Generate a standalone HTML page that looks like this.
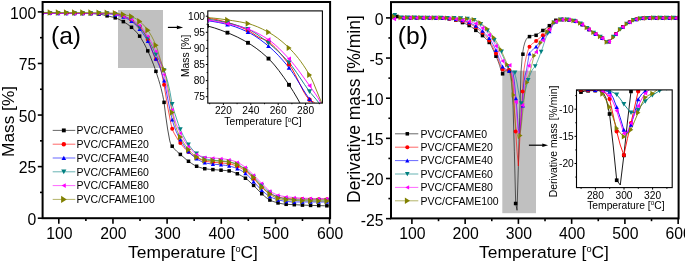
<!DOCTYPE html><html><head><meta charset="utf-8"><style>html,body{margin:0;padding:0;background:#fff;width:685px;height:262px;overflow:hidden}svg{display:block;will-change:transform}</style></head><body>
<svg width="685" height="262" viewBox="0 0 685 262" font-family='"Liberation Sans", sans-serif'>
<defs>
<clipPath id="cl"><rect x="42.6" y="2.0" width="287.5" height="216.2"/></clipPath>
<clipPath id="cli"><rect x="207.8" y="10.9" width="114.59999999999997" height="92.19999999999999"/></clipPath>
<clipPath id="cr"><rect x="391.0" y="2.1" width="287.6" height="216.3"/></clipPath>
<clipPath id="cri"><rect x="576.5" y="89.9" width="95.70000000000005" height="97.69999999999999"/></clipPath>
</defs>
<rect x="118" y="10" width="45" height="58" fill="#c0c0c0"/>
<g clip-path="url(#cl)" fill="none" stroke-width="0.7">
<path d="M42.6 13.2L85.6 13.34L94.6 13.75L99.1 14.11L101.1 14.4L113.6 17.35L116.6 18.31L119.1 19.39L124.1 22.06L127.6 24.29L129.6 25.76L131.6 27.39L134.6 30.19L136.6 32.35L138.1 34.15L139.6 36.1L141.1 38.3L144.1 43.51L147.6 50.48L150.1 56.03L153.6 64.79L155.6 70.38L158.6 79.62L160.1 84.64L161.1 88.36L162.6 94.78L163.6 99.77L164.1 102.62L165.6 115.07L167.6 128.98L169.6 140.03L170.1 142.09L170.6 143.48L171.6 145.33L173.1 147.41L174.6 149.16L176.6 151.18L186.1 159.43L188.1 160.98L191.6 163.45L194.1 165.01L196.1 166.03L199.6 167.37L203.1 168.39L205.6 168.84L209.6 169.31L226.1 170.57L229.6 170.98L231.1 171.33L233.1 171.99L238.6 174.32L241.6 175.86L244.1 177.35L246.1 178.69L248.1 180.28L254.1 185.88L260.6 192.67L264.6 196.27L267.1 198.31L269.1 199.63L270.6 200.38L273.1 201.44L275.6 202.29L278.1 202.95L282.1 203.78L284.6 204.15L287.1 204.37L308.6 205.34L324.6 205.78L329.6 205.8" stroke="#000000"/>
<path d="M42.6 13.2L75.1 13.38L99.1 13.4L107.6 13.32L115.6 13.63L117.1 13.83L119.1 14.34L124.1 16.2L127.1 17.63L130.1 19.42L132.1 20.8L135.6 24.1L136.6 24.77L138.1 25.47L139.1 26.22L140.6 27.75L142.6 30.44L145.1 34.53L148.6 41L150.1 44.73L153.1 53.36L154.6 57.02L155.6 58.79L156.1 59.41L157.6 60.59L158.1 61.28L158.6 62.29L159.6 65.09L160.6 68.76L162.1 75.36L164.1 85L166.6 100.62L168.1 109.16L171.1 124.44L172.1 128.5L173.1 131.12L174.1 133.19L176.6 137.53L178.6 140.68L180.6 143.42L183.1 146.53L185.6 149.34L187.6 151.3L191.1 154.12L194.6 156.44L200.1 159.32L202.1 160.18L203.6 160.7L207.1 161.5L211.1 162.11L224.1 163.18L229.6 163.89L231.6 164.33L234.1 165.07L237.1 166.16L239.1 167.05L241.1 168.14L243.6 169.74L246.1 171.53L247.6 172.79L254.1 179.2L260.6 186.06L264.1 189.24L266.6 191.33L268.6 192.78L270.6 193.93L273.6 195.39L276.1 196.36L279.1 197.2L283.1 198.01L286.1 198.4L291.1 198.76L301.6 199.09L329.6 199.2" stroke="#ff0000"/>
<path d="M42.6 13.3L86.1 13.49L103.1 13.64L108.6 13.81L111.6 14.21L116.6 15.14L119.6 15.85L122.1 16.59L124.6 17.5L126.6 18.41L128.6 19.48L131.1 21.03L132.6 22.1L134.6 23.8L138.1 27.39L140.1 29.7L141.6 31.61L144.6 35.97L146.6 39.23L148.6 42.79L150.1 45.94L154.6 56.2L155.6 58.24L157.1 60.9L158.1 63.04L159.6 66.7L161.1 70.89L162.6 75.64L164.1 80.96L165.1 85.4L169.6 108.09L171.6 117.42L173.1 122.89L174.6 127.39L176.1 131.24L178.1 135.61L180.1 139.33L182.6 143.52L185.1 147.33L187.1 149.99L189.1 152.25L191.6 154.69L194.6 157.17L198.6 159.86L201.6 161.6L204.1 162.63L206.6 163.22L210.1 163.78L213.6 164.18L222.1 164.92L225.6 165.39L229.1 166L231.6 166.61L234.6 167.59L237.6 168.77L240.1 169.96L242.1 171.09L244.1 172.38L245.6 173.45L247.1 174.73L249.1 176.76L259.6 188.17L261.6 190.1L265.6 193.59L267.6 195.12L269.6 196.39L272.6 197.88L275.6 199.09L279.1 200.11L283.1 200.97L286.1 201.4L292.1 201.94L329.6 202" stroke="#0000ff"/>
<path d="M42.6 13.2L75.6 13.39L99.1 13.4L107.1 13.32L109.6 13.42L116.1 14.21L118.1 14.61L120.6 15.26L124.6 16.54L127.1 17.48L129.6 18.63L132.1 20.05L133.6 21.19L135.1 22.55L137.1 24.62L140.1 27.97L143.6 32.27L146.6 36.53L149.1 40.66L150.6 43.6L155.1 53L156.6 55.78L159.1 59.97L162.1 65.84L163.6 69.26L164.6 71.83L166.1 76.23L167.1 79.57L168.1 83.32L169.6 90.04L170.1 92.51L171.6 101.32L172.6 105.79L174.6 112.69L178.1 123.44L179.6 127.6L181.1 131.11L183.1 135.32L185.1 139.1L186.6 141.64L188.6 144.64L191.1 147.93L193.1 150.27L195.1 152.29L198.1 154.76L200.6 156.57L203.1 157.98L205.1 158.72L208.1 159.46L211.6 160.06L214.1 160.32L223.1 161L226.6 161.41L229.6 161.89L232.1 162.5L234.6 163.3L237.6 164.47L239.6 165.46L241.6 166.66L244.1 168.36L246.1 169.83L248.1 171.54L254.1 177.39L261.1 184.71L265.6 189.1L268.1 191.32L270.1 192.8L273.1 194.71L275.6 196.06L277.6 196.9L281.1 197.98L284.6 198.77L288.6 199.28L293.1 199.64L302.1 200L329.6 200.1" stroke="#008080"/>
<path d="M42.6 13.4L68.6 13.57L99.1 13.6L107.1 13.52L109.1 13.61L111.6 13.89L116.1 14.63L118.1 15.07L120.6 15.77L126.1 17.48L129.1 18.55L131.6 19.65L134.1 21.09L135.6 22.13L137.6 23.72L140.6 26.5L143.1 29.48L145.6 32.98L148.6 37.57L151.1 41.92L153.6 46.71L159.1 57.73L160.6 61.56L162.1 66.76L164.1 74.95L167.1 89.22L168.6 95.62L174.6 118.9L176.1 123.78L177.6 127.54L179.1 130.76L182.6 137.43L185.1 141.75L187.1 144.78L188.6 146.72L191.6 150.15L193.6 152.11L195.6 153.67L197.6 154.76L200.6 156.08L203.1 156.87L204.6 157.18L207.1 157.51L220.6 158.56L224.1 158.96L227.1 159.43L230.1 160.01L233.1 160.82L236.6 162.06L239.1 163.19L241.1 164.33L243.6 165.99L246.1 167.85L247.6 169.16L262.1 183.69L266.1 187.83L268.1 189.7L269.6 190.87L272.6 192.74L275.1 194.03L277.1 194.84L281.1 195.93L285.1 196.67L288.1 197.01L300.6 198.11L314.6 198.5L329.6 198.6" stroke="#ff00ff"/>
<path d="M42.6 12.5L99.1 12.7L110.6 13.01L115.6 13.23L118.1 13.5L120.6 13.93L126.1 15.04L129.1 15.77L131.6 16.56L133.1 17.18L134.6 17.95L136.6 19.17L140.1 21.74L142.1 23.5L144.6 26.15L147.1 29.24L149.6 32.82L151.6 36.2L153.6 40.09L155.6 44.55L157.1 48.52L160.6 60.4L163.6 68.29L164.6 71.58L165.1 73.59L166.1 78.2L168.1 88.52L171.1 106.56L172.1 112.05L174.1 120.9L175.6 126.3L177.1 130.39L178.6 133.73L181.1 138.46L183.6 142.75L185.6 145.83L187.6 148.52L190.1 151.39L192.6 153.94L194.6 155.65L196.6 156.95L200.1 158.7L201.6 159.3L203.1 159.77L204.6 160.09L207.6 160.43L213.1 160.82L221.6 161.24L227.6 161.95L230.6 162.5L233.1 163.15L236.1 164.17L238.6 165.26L241.6 167.15L245.6 170.15L248.1 172.19L250.6 174.44L253.1 176.89L254.6 178.5L259.6 184.75L261.1 186.48L264.1 189.47L266.6 191.75L269.1 193.72L272.6 196.02L275.1 197.42L277.1 198.26L281.1 199.22L285.1 199.81L300.6 200.73L314.6 201.02L329.6 201.1" stroke="#808000"/>
</g>
<g clip-path="url(#cl)">
<rect x="40.21" y="11.45" width="3.5" height="3.5" fill="#000000"/>
<rect x="48.35" y="11.45" width="3.5" height="3.5" fill="#000000"/>
<rect x="56.49" y="11.46" width="3.5" height="3.5" fill="#000000"/>
<rect x="64.63" y="11.48" width="3.5" height="3.5" fill="#000000"/>
<rect x="72.77" y="11.51" width="3.5" height="3.5" fill="#000000"/>
<rect x="80.91" y="11.55" width="3.5" height="3.5" fill="#000000"/>
<rect x="89.05" y="11.78" width="3.5" height="3.5" fill="#000000"/>
<rect x="97.19" y="12.34" width="3.5" height="3.5" fill="#000000"/>
<rect x="105.33" y="14.09" width="3.5" height="3.5" fill="#000000"/>
<rect x="113.47" y="16.08" width="3.5" height="3.5" fill="#000000"/>
<rect x="121.61" y="19.88" width="3.5" height="3.5" fill="#000000"/>
<rect x="129.75" y="25.55" width="3.5" height="3.5" fill="#000000"/>
<rect x="137.89" y="34.4" width="3.5" height="3.5" fill="#000000"/>
<rect x="146.03" y="49.1" width="3.5" height="3.5" fill="#000000"/>
<rect x="154.17" y="69.6" width="3.5" height="3.5" fill="#000000"/>
<rect x="162.31" y="100.61" width="3.5" height="3.5" fill="#000000"/>
<rect x="170.45" y="144.45" width="3.5" height="3.5" fill="#000000"/>
<rect x="178.59" y="152.67" width="3.5" height="3.5" fill="#000000"/>
<rect x="186.73" y="159.51" width="3.5" height="3.5" fill="#000000"/>
<rect x="194.87" y="164.5" width="3.5" height="3.5" fill="#000000"/>
<rect x="203.01" y="166.96" width="3.5" height="3.5" fill="#000000"/>
<rect x="211.15" y="167.86" width="3.5" height="3.5" fill="#000000"/>
<rect x="219.29" y="168.45" width="3.5" height="3.5" fill="#000000"/>
<rect x="227.43" y="169.16" width="3.5" height="3.5" fill="#000000"/>
<rect x="235.57" y="172" width="3.5" height="3.5" fill="#000000"/>
<rect x="243.71" y="176.49" width="3.5" height="3.5" fill="#000000"/>
<rect x="251.85" y="183.64" width="3.5" height="3.5" fill="#000000"/>
<rect x="259.99" y="191.97" width="3.5" height="3.5" fill="#000000"/>
<rect x="268.13" y="198.29" width="3.5" height="3.5" fill="#000000"/>
<rect x="276.27" y="201.18" width="3.5" height="3.5" fill="#000000"/>
<rect x="284.41" y="202.55" width="3.5" height="3.5" fill="#000000"/>
<rect x="292.55" y="202.95" width="3.5" height="3.5" fill="#000000"/>
<rect x="300.69" y="203.36" width="3.5" height="3.5" fill="#000000"/>
<rect x="308.83" y="203.65" width="3.5" height="3.5" fill="#000000"/>
<rect x="316.97" y="203.85" width="3.5" height="3.5" fill="#000000"/>
<rect x="325.11" y="204.05" width="3.5" height="3.5" fill="#000000"/>
<circle cx="41.96" cy="13.19" r="2" fill="#ff0000"/>
<circle cx="50.1" cy="13.27" r="2" fill="#ff0000"/>
<circle cx="58.24" cy="13.32" r="2" fill="#ff0000"/>
<circle cx="66.38" cy="13.36" r="2" fill="#ff0000"/>
<circle cx="74.52" cy="13.38" r="2" fill="#ff0000"/>
<circle cx="82.66" cy="13.4" r="2" fill="#ff0000"/>
<circle cx="90.8" cy="13.4" r="2" fill="#ff0000"/>
<circle cx="98.94" cy="13.4" r="2" fill="#ff0000"/>
<circle cx="107.08" cy="13.32" r="2" fill="#ff0000"/>
<circle cx="115.22" cy="13.6" r="2" fill="#ff0000"/>
<circle cx="123.36" cy="15.91" r="2" fill="#ff0000"/>
<circle cx="131.5" cy="20.36" r="2" fill="#ff0000"/>
<circle cx="139.64" cy="26.71" r="2" fill="#ff0000"/>
<circle cx="147.78" cy="39.41" r="2" fill="#ff0000"/>
<circle cx="155.92" cy="59.21" r="2" fill="#ff0000"/>
<circle cx="164.06" cy="84.79" r="2" fill="#ff0000"/>
<circle cx="172.2" cy="128.8" r="2" fill="#ff0000"/>
<circle cx="180.34" cy="143.08" r="2" fill="#ff0000"/>
<circle cx="188.48" cy="152.07" r="2" fill="#ff0000"/>
<circle cx="196.62" cy="157.56" r="2" fill="#ff0000"/>
<circle cx="204.76" cy="161.01" r="2" fill="#ff0000"/>
<circle cx="212.9" cy="162.31" r="2" fill="#ff0000"/>
<circle cx="221.04" cy="162.9" r="2" fill="#ff0000"/>
<circle cx="229.18" cy="163.81" r="2" fill="#ff0000"/>
<circle cx="237.32" cy="166.25" r="2" fill="#ff0000"/>
<circle cx="245.46" cy="171.04" r="2" fill="#ff0000"/>
<circle cx="253.6" cy="178.7" r="2" fill="#ff0000"/>
<circle cx="261.74" cy="187.13" r="2" fill="#ff0000"/>
<circle cx="269.88" cy="193.54" r="2" fill="#ff0000"/>
<circle cx="278.02" cy="196.93" r="2" fill="#ff0000"/>
<circle cx="286.16" cy="198.41" r="2" fill="#ff0000"/>
<circle cx="294.3" cy="198.9" r="2" fill="#ff0000"/>
<circle cx="302.44" cy="199.1" r="2" fill="#ff0000"/>
<circle cx="310.58" cy="199.16" r="2" fill="#ff0000"/>
<circle cx="318.72" cy="199.19" r="2" fill="#ff0000"/>
<circle cx="326.86" cy="199.2" r="2" fill="#ff0000"/>
<polygon points="41.96,11.3 44.06,15.1 39.86,15.1" fill="#0000ff"/>
<polygon points="50.1,11.31 52.2,15.11 48,15.11" fill="#0000ff"/>
<polygon points="58.24,11.33 60.34,15.13 56.14,15.13" fill="#0000ff"/>
<polygon points="66.38,11.36 68.48,15.16 64.28,15.16" fill="#0000ff"/>
<polygon points="74.52,11.41 76.62,15.21 72.42,15.21" fill="#0000ff"/>
<polygon points="82.66,11.47 84.76,15.27 80.56,15.27" fill="#0000ff"/>
<polygon points="90.8,11.53 92.9,15.33 88.7,15.33" fill="#0000ff"/>
<polygon points="98.94,11.6 101.04,15.4 96.84,15.4" fill="#0000ff"/>
<polygon points="107.08,11.72 109.18,15.52 104.98,15.52" fill="#0000ff"/>
<polygon points="115.22,12.87 117.32,16.67 113.12,16.67" fill="#0000ff"/>
<polygon points="123.36,15.02 125.46,18.82 121.26,18.82" fill="#0000ff"/>
<polygon points="131.5,19.3 133.6,23.1 129.4,23.1" fill="#0000ff"/>
<polygon points="139.64,27.15 141.74,30.95 137.54,30.95" fill="#0000ff"/>
<polygon points="147.78,39.26 149.88,43.06 145.68,43.06" fill="#0000ff"/>
<polygon points="155.92,56.85 158.02,60.65 153.82,60.65" fill="#0000ff"/>
<polygon points="164.06,78.8 166.16,82.6 161.96,82.6" fill="#0000ff"/>
<polygon points="172.2,117.8 174.3,121.6 170.1,121.6" fill="#0000ff"/>
<polygon points="180.34,137.74 182.44,141.54 178.24,141.54" fill="#0000ff"/>
<polygon points="188.48,149.59 190.58,153.39 186.38,153.39" fill="#0000ff"/>
<polygon points="196.62,156.58 198.72,160.38 194.52,160.38" fill="#0000ff"/>
<polygon points="204.76,160.81 206.86,164.61 202.66,164.61" fill="#0000ff"/>
<polygon points="212.9,162.11 215,165.91 210.8,165.91" fill="#0000ff"/>
<polygon points="221.04,162.8 223.14,166.6 218.94,166.6" fill="#0000ff"/>
<polygon points="229.18,164.02 231.28,167.82 227.08,167.82" fill="#0000ff"/>
<polygon points="237.32,166.65 239.42,170.45 235.22,170.45" fill="#0000ff"/>
<polygon points="245.46,171.34 247.56,175.14 243.36,175.14" fill="#0000ff"/>
<polygon points="253.6,179.7 255.7,183.5 251.5,183.5" fill="#0000ff"/>
<polygon points="261.74,188.23 263.84,192.03 259.64,192.03" fill="#0000ff"/>
<polygon points="269.88,194.54 271.98,198.34 267.78,198.34" fill="#0000ff"/>
<polygon points="278.02,197.83 280.12,201.63 275.92,201.63" fill="#0000ff"/>
<polygon points="286.16,199.41 288.26,203.21 284.06,203.21" fill="#0000ff"/>
<polygon points="294.3,200 296.4,203.8 292.2,203.8" fill="#0000ff"/>
<polygon points="302.44,199.9 304.54,203.7 300.34,203.7" fill="#0000ff"/>
<polygon points="310.58,199.93 312.68,203.73 308.48,203.73" fill="#0000ff"/>
<polygon points="318.72,199.97 320.82,203.77 316.62,203.77" fill="#0000ff"/>
<polygon points="326.86,200 328.96,203.8 324.76,203.8" fill="#0000ff"/>
<polygon points="41.96,15.49 44.31,11.12 39.61,11.12" fill="#008080"/>
<polygon points="50.1,15.57 52.45,11.2 47.75,11.2" fill="#008080"/>
<polygon points="58.24,15.62 60.59,11.25 55.89,11.25" fill="#008080"/>
<polygon points="66.38,15.66 68.73,11.29 64.03,11.29" fill="#008080"/>
<polygon points="74.52,15.68 76.87,11.31 72.17,11.31" fill="#008080"/>
<polygon points="82.66,15.7 85.01,11.33 80.31,11.33" fill="#008080"/>
<polygon points="90.8,15.7 93.15,11.33 88.45,11.33" fill="#008080"/>
<polygon points="98.94,15.7 101.29,11.33 96.59,11.33" fill="#008080"/>
<polygon points="107.08,15.62 109.43,11.25 104.73,11.25" fill="#008080"/>
<polygon points="115.22,16.38 117.57,12.01 112.87,12.01" fill="#008080"/>
<polygon points="123.36,18.42 125.71,14.05 121.01,14.05" fill="#008080"/>
<polygon points="131.5,21.98 133.85,17.61 129.15,17.61" fill="#008080"/>
<polygon points="139.64,29.74 141.99,25.37 137.29,25.37" fill="#008080"/>
<polygon points="147.78,40.67 150.13,36.3 145.43,36.3" fill="#008080"/>
<polygon points="155.92,56.87 158.27,52.5 153.57,52.5" fill="#008080"/>
<polygon points="164.06,72.71 166.41,68.34 161.71,68.34" fill="#008080"/>
<polygon points="172.2,106.46 174.55,102.09 169.85,102.09" fill="#008080"/>
<polygon points="180.34,131.69 182.69,127.32 177.99,127.32" fill="#008080"/>
<polygon points="188.48,146.77 190.83,142.4 186.13,142.4" fill="#008080"/>
<polygon points="196.62,155.9 198.97,151.53 194.27,151.53" fill="#008080"/>
<polygon points="204.76,160.92 207.11,156.55 202.41,156.55" fill="#008080"/>
<polygon points="212.9,162.51 215.25,158.14 210.55,158.14" fill="#008080"/>
<polygon points="221.04,163.1 223.39,158.73 218.69,158.73" fill="#008080"/>
<polygon points="229.18,164.11 231.53,159.74 226.83,159.74" fill="#008080"/>
<polygon points="237.32,166.65 239.67,162.28 234.97,162.28" fill="#008080"/>
<polygon points="245.46,171.64 247.81,167.27 243.11,167.27" fill="#008080"/>
<polygon points="253.6,179.2 255.95,174.83 251.25,174.83" fill="#008080"/>
<polygon points="261.74,187.64 264.09,183.27 259.39,183.27" fill="#008080"/>
<polygon points="269.88,194.95 272.23,190.58 267.53,190.58" fill="#008080"/>
<polygon points="278.02,199.34 280.37,194.97 275.67,194.97" fill="#008080"/>
<polygon points="286.16,201.31 288.51,196.94 283.81,196.94" fill="#008080"/>
<polygon points="294.3,202.01 296.65,197.64 291.95,197.64" fill="#008080"/>
<polygon points="302.44,202.3 304.79,197.93 300.09,197.93" fill="#008080"/>
<polygon points="310.58,202.36 312.93,197.99 308.23,197.99" fill="#008080"/>
<polygon points="318.72,202.39 321.07,198.02 316.37,198.02" fill="#008080"/>
<polygon points="326.86,202.4 329.21,198.03 324.51,198.03" fill="#008080"/>
<polygon points="40.26,13.39 43.49,11.57 43.49,15.22" fill="#ff00ff"/>
<polygon points="48.4,13.47 51.63,11.64 51.63,15.3" fill="#ff00ff"/>
<polygon points="56.54,13.52 59.77,11.7 59.77,15.35" fill="#ff00ff"/>
<polygon points="64.68,13.56 67.91,11.73 67.91,15.39" fill="#ff00ff"/>
<polygon points="72.82,13.58 76.05,11.76 76.05,15.41" fill="#ff00ff"/>
<polygon points="80.96,13.6 84.19,11.77 84.19,15.42" fill="#ff00ff"/>
<polygon points="89.1,13.6 92.33,11.77 92.33,15.43" fill="#ff00ff"/>
<polygon points="97.24,13.6 100.47,11.77 100.47,15.43" fill="#ff00ff"/>
<polygon points="105.38,13.52 108.61,11.69 108.61,15.35" fill="#ff00ff"/>
<polygon points="113.52,14.47 116.75,12.65 116.75,16.3" fill="#ff00ff"/>
<polygon points="121.66,16.62 124.89,14.79 124.89,18.45" fill="#ff00ff"/>
<polygon points="129.8,19.6 133.03,17.77 133.03,21.43" fill="#ff00ff"/>
<polygon points="137.94,25.54 141.17,23.71 141.17,27.37" fill="#ff00ff"/>
<polygon points="146.08,36.27 149.31,34.44 149.31,38.1" fill="#ff00ff"/>
<polygon points="154.22,51.34 157.45,49.51 157.45,53.17" fill="#ff00ff"/>
<polygon points="162.36,74.77 165.59,72.95 165.59,76.6" fill="#ff00ff"/>
<polygon points="170.5,109.64 173.73,107.82 173.73,111.47" fill="#ff00ff"/>
<polygon points="178.64,133.19 181.87,131.37 181.87,135.02" fill="#ff00ff"/>
<polygon points="186.78,146.58 190.01,144.75 190.01,148.4" fill="#ff00ff"/>
<polygon points="194.92,154.26 198.15,152.44 198.15,156.09" fill="#ff00ff"/>
<polygon points="203.06,157.21 206.29,155.38 206.29,159.04" fill="#ff00ff"/>
<polygon points="211.2,158.01 214.43,156.18 214.43,159.84" fill="#ff00ff"/>
<polygon points="219.34,158.6 222.57,156.78 222.57,160.43" fill="#ff00ff"/>
<polygon points="227.48,159.82 230.71,157.99 230.71,161.64" fill="#ff00ff"/>
<polygon points="235.62,162.35 238.85,160.52 238.85,164.18" fill="#ff00ff"/>
<polygon points="243.76,167.35 246.99,165.52 246.99,169.17" fill="#ff00ff"/>
<polygon points="251.9,175.2 255.13,173.37 255.13,177.03" fill="#ff00ff"/>
<polygon points="260.04,183.34 263.27,181.51 263.27,185.16" fill="#ff00ff"/>
<polygon points="268.18,191.05 271.41,189.23 271.41,192.88" fill="#ff00ff"/>
<polygon points="276.32,195.14 279.55,193.31 279.55,196.96" fill="#ff00ff"/>
<polygon points="284.46,196.81 287.69,194.98 287.69,198.63" fill="#ff00ff"/>
<polygon points="292.6,197.51 295.83,195.68 295.83,199.34" fill="#ff00ff"/>
<polygon points="300.74,198.2 303.97,196.38 303.97,200.03" fill="#ff00ff"/>
<polygon points="308.88,198.42 312.11,196.59 312.11,200.25" fill="#ff00ff"/>
<polygon points="317.02,198.55 320.25,196.73 320.25,200.38" fill="#ff00ff"/>
<polygon points="325.16,198.6 328.39,196.77 328.39,200.43" fill="#ff00ff"/>
<polygon points="44.66,12.5 39.53,9.2 39.53,15.8" fill="#808000"/>
<polygon points="52.8,12.5 47.67,9.2 47.67,15.8" fill="#808000"/>
<polygon points="60.94,12.51 55.81,9.21 55.81,15.81" fill="#808000"/>
<polygon points="69.08,12.53 63.95,9.23 63.95,15.83" fill="#808000"/>
<polygon points="77.22,12.56 72.09,9.26 72.09,15.86" fill="#808000"/>
<polygon points="85.36,12.6 80.23,9.3 80.23,15.9" fill="#808000"/>
<polygon points="93.5,12.64 88.37,9.34 88.37,15.94" fill="#808000"/>
<polygon points="101.64,12.7 96.51,9.4 96.51,16" fill="#808000"/>
<polygon points="109.78,12.9 104.65,9.6 104.65,16.2" fill="#808000"/>
<polygon points="117.92,13.2 112.79,9.9 112.79,16.5" fill="#808000"/>
<polygon points="126.06,14.47 120.93,11.17 120.93,17.77" fill="#808000"/>
<polygon points="134.2,16.53 129.07,13.23 129.07,19.83" fill="#808000"/>
<polygon points="142.34,21.38 137.21,18.08 137.21,24.68" fill="#808000"/>
<polygon points="150.48,30.16 145.35,26.86 145.35,33.46" fill="#808000"/>
<polygon points="158.62,45.32 153.49,42.02 153.49,48.62" fill="#808000"/>
<polygon points="166.76,69.7 161.63,66.4 161.63,73" fill="#808000"/>
<polygon points="174.9,112.55 169.77,109.25 169.77,115.85" fill="#808000"/>
<polygon points="183.04,137.07 177.91,133.77 177.91,140.37" fill="#808000"/>
<polygon points="191.18,149.58 186.05,146.28 186.05,152.88" fill="#808000"/>
<polygon points="199.32,156.97 194.19,153.67 194.19,160.27" fill="#808000"/>
<polygon points="207.46,160.11 202.33,156.81 202.33,163.41" fill="#808000"/>
<polygon points="215.6,160.81 210.47,157.51 210.47,164.11" fill="#808000"/>
<polygon points="223.74,161.2 218.61,157.9 218.61,164.5" fill="#808000"/>
<polygon points="231.88,162.21 226.75,158.91 226.75,165.51" fill="#808000"/>
<polygon points="240.02,164.65 234.89,161.35 234.89,167.95" fill="#808000"/>
<polygon points="248.16,170.05 243.03,166.75 243.03,173.35" fill="#808000"/>
<polygon points="256.3,177.4 251.17,174.1 251.17,180.7" fill="#808000"/>
<polygon points="264.44,187.14 259.31,183.84 259.31,190.44" fill="#808000"/>
<polygon points="272.58,194.25 267.45,190.95 267.45,197.55" fill="#808000"/>
<polygon points="280.72,198.53 275.59,195.23 275.59,201.83" fill="#808000"/>
<polygon points="288.86,199.9 283.73,196.6 283.73,203.2" fill="#808000"/>
<polygon points="297,200.31 291.87,197.01 291.87,203.61" fill="#808000"/>
<polygon points="305.14,200.8 300.01,197.5 300.01,204.1" fill="#808000"/>
<polygon points="313.28,200.96 308.15,197.66 308.15,204.26" fill="#808000"/>
<polygon points="321.42,201.06 316.29,197.76 316.29,204.36" fill="#808000"/>
<polygon points="329.56,201.1 324.43,197.8 324.43,204.4" fill="#808000"/>
</g>
<rect x="42.6" y="2.0" width="287.5" height="216.2" fill="none" stroke="#000" stroke-width="2"/>
<line x1="37.8" y1="218.2" x2="42.6" y2="218.2" stroke="#000" stroke-width="1.6"/>
<text transform="translate(36.4,224.92) scale(1,1.04)" font-size="15.8" text-anchor="end">0</text>
<line x1="37.8" y1="166.62" x2="42.6" y2="166.62" stroke="#000" stroke-width="1.6"/>
<text transform="translate(36.4,173.35) scale(1,1.04)" font-size="15.8" text-anchor="end">25</text>
<line x1="37.8" y1="115.05" x2="42.6" y2="115.05" stroke="#000" stroke-width="1.6"/>
<text transform="translate(36.4,121.77) scale(1,1.04)" font-size="15.8" text-anchor="end">50</text>
<line x1="37.8" y1="63.47" x2="42.6" y2="63.47" stroke="#000" stroke-width="1.6"/>
<text transform="translate(36.4,70.2) scale(1,1.04)" font-size="15.8" text-anchor="end">75</text>
<line x1="37.8" y1="11.9" x2="42.6" y2="11.9" stroke="#000" stroke-width="1.6"/>
<text transform="translate(36.4,18.62) scale(1,1.04)" font-size="15.8" text-anchor="end">100</text>
<line x1="40" y1="192.41" x2="42.6" y2="192.41" stroke="#000" stroke-width="1.6"/>
<line x1="40" y1="140.84" x2="42.6" y2="140.84" stroke="#000" stroke-width="1.6"/>
<line x1="40" y1="89.26" x2="42.6" y2="89.26" stroke="#000" stroke-width="1.6"/>
<line x1="40" y1="37.69" x2="42.6" y2="37.69" stroke="#000" stroke-width="1.6"/>
<line x1="58.8" y1="218.2" x2="58.8" y2="223.8" stroke="#000" stroke-width="1.6"/>
<text transform="translate(59.3,238.6) scale(1,1.04)" font-size="15.8" text-anchor="middle">100</text>
<line x1="112.95" y1="218.2" x2="112.95" y2="223.8" stroke="#000" stroke-width="1.6"/>
<text transform="translate(113.45,238.6) scale(1,1.04)" font-size="15.8" text-anchor="middle">200</text>
<line x1="167.1" y1="218.2" x2="167.1" y2="223.8" stroke="#000" stroke-width="1.6"/>
<text transform="translate(167.6,238.6) scale(1,1.04)" font-size="15.8" text-anchor="middle">300</text>
<line x1="221.25" y1="218.2" x2="221.25" y2="223.8" stroke="#000" stroke-width="1.6"/>
<text transform="translate(221.75,238.6) scale(1,1.04)" font-size="15.8" text-anchor="middle">400</text>
<line x1="275.4" y1="218.2" x2="275.4" y2="223.8" stroke="#000" stroke-width="1.6"/>
<text transform="translate(275.9,238.6) scale(1,1.04)" font-size="15.8" text-anchor="middle">500</text>
<line x1="329.55" y1="218.2" x2="329.55" y2="223.8" stroke="#000" stroke-width="1.6"/>
<text transform="translate(330.05,238.6) scale(1,1.04)" font-size="15.8" text-anchor="middle">600</text>
<line x1="85.88" y1="218.2" x2="85.88" y2="221" stroke="#000" stroke-width="1.6"/>
<line x1="140.02" y1="218.2" x2="140.02" y2="221" stroke="#000" stroke-width="1.6"/>
<line x1="194.18" y1="218.2" x2="194.18" y2="221" stroke="#000" stroke-width="1.6"/>
<line x1="248.32" y1="218.2" x2="248.32" y2="221" stroke="#000" stroke-width="1.6"/>
<line x1="302.47" y1="218.2" x2="302.47" y2="221" stroke="#000" stroke-width="1.6"/>
<text x="128.1" y="257.8" font-size="17.4">Temperature [<tspan font-size="9.2" dy="-5.3">o</tspan><tspan dy="5.3">C]</tspan></text>
<text transform="translate(14.0,157) rotate(-90)" font-size="17.3">Mass [%]</text>
<text x="51" y="44" font-size="24.6">(a)</text>
<line x1="52.7" y1="130.4" x2="75.3" y2="130.4" stroke="#000000" stroke-width="0.6"/>
<rect x="61.88" y="128.47" width="3.85" height="3.85" fill="#000000"/>
<text x="76.6" y="134.1" font-size="10.5">PVC/CFAME0</text>
<line x1="52.7" y1="144.2" x2="75.3" y2="144.2" stroke="#ff0000" stroke-width="0.6"/>
<circle cx="63.8" cy="144.2" r="2.2" fill="#ff0000"/>
<text x="76.6" y="147.9" font-size="10.5">PVC/CFAME20</text>
<line x1="52.7" y1="158.0" x2="75.3" y2="158.0" stroke="#0000ff" stroke-width="0.6"/>
<polygon points="63.8,155.8 66.11,159.98 61.49,159.98" fill="#0000ff"/>
<text x="76.6" y="161.7" font-size="10.5">PVC/CFAME40</text>
<line x1="52.7" y1="171.8" x2="75.3" y2="171.8" stroke="#008080" stroke-width="0.6"/>
<polygon points="63.8,174.33 66.38,169.52 61.21,169.52" fill="#008080"/>
<text x="76.6" y="175.5" font-size="10.5">PVC/CFAME60</text>
<line x1="52.7" y1="185.6" x2="75.3" y2="185.6" stroke="#ff00ff" stroke-width="0.6"/>
<polygon points="61.6,185.6 65.78,183.23 65.78,187.97" fill="#ff00ff"/>
<text x="76.6" y="189.3" font-size="10.5">PVC/CFAME80</text>
<line x1="52.7" y1="199.4" x2="75.3" y2="199.4" stroke="#808000" stroke-width="0.6"/>
<polygon points="66.77,199.4 61.13,195.77 61.13,203.03" fill="#808000"/>
<text x="76.6" y="203.1" font-size="10.5">PVC/CFAME100</text>
<rect x="207.8" y="10.9" width="114.59999999999997" height="92.19999999999999" fill="#fff"/>
<g clip-path="url(#cli)" fill="none" stroke-width="0.9">
<path d="M193.8 23.51L202.62 25.01L208.92 26.37L214.59 27.98L220.89 30.16L229.71 33.61L237.27 37.01L244.2 40.62L247.98 42.8L251.13 44.77L256.17 48.23L261.21 52.13L266.25 56.49L270.66 60.79L274.44 65.03L278.85 70.56L283.89 77.44L289.56 85.63L293.34 91.54L297.75 99.04L303.42 109.22L307.2 116.52L314.13 131.41L317.91 139.9L321.06 147.67L323.58 154.59L326.73 164.45L328.62 171.15L329.88 176.04L331.14 182.49L334.29 201.46L338.07 220.2L339.96 228.52L342.48 238.46L343.74 243.07L345 246.94" stroke="#000000"/>
<path d="M193.8 17.94L208.29 18.43L211.44 18.74L215.22 19.37L220.89 20.69L230.34 23.3L235.38 24.98L241.05 27.23L245.46 29.21L249.24 31.07L251.76 32.64L256.8 36.16L258.69 37.3L260.58 38.19L263.73 39.21L264.99 39.71L266.88 40.72L268.77 41.95L271.92 44.47L275.07 47.48L278.85 51.61L282.63 56.18L290.19 65.97L292.08 68.85L295.23 74.64L302.79 90.02L304.68 93.42L305.94 95.45L307.83 98.01L309.09 99.35L310.35 100.33L313.5 102L314.76 103.14L315.39 103.91L316.65 105.86L317.91 108.28L319.17 111.12L321.06 116.05L323.58 123.62L326.73 134.05L330.51 147.15L332.4 155.08L335.55 169.65L337.44 177.85L341.22 192.71L345 206.4" stroke="#ff0000"/>
<path d="M193.8 19.02L200.73 19.8L212.07 21.35L218.37 22.45L224.67 23.79L230.34 25.24L235.38 26.85L240.42 28.75L246.09 31.21L250.5 33.39L254.91 35.99L259.95 39.43L264.99 43.26L270.03 47.4L273.81 50.85L278.22 55.28L282.63 60.11L286.41 64.54L289.56 68.42L291.45 70.97L293.34 73.73L295.86 77.65L302.79 89.01L305.94 93.98L309.09 98.52L312.24 102.39L314.76 106.17L316.65 109.28L318.54 112.62L322.32 120.05L324.84 125.54L327.36 131.46L329.88 137.84L331.14 141.5L333.03 147.76L342.48 181.61L345 190.34" stroke="#0000ff"/>
<path d="M193.8 18.1L200.1 18.57L208.92 19.42L213.33 20.02L218.37 20.9L227.19 22.8L234.12 24.5L239.79 26.18L245.46 28.18L249.24 29.76L251.76 31.03L254.91 32.91L258.06 35.03L262.47 38.31L270.03 44.3L273.81 47.47L277.59 50.85L282 55.09L285.78 59L289.56 63.18L292.08 66.3L296.49 72.43L304.68 84.68L307.83 89.18L310.98 93.31L316.02 99.23L318.54 102.39L322.95 108.42L326.73 114.1L329.25 118.31L331.77 122.97L334.29 128.16L336.81 133.9L338.7 138.6L340.59 143.84L342.48 149.69L345 158.23" stroke="#008080"/>
<path d="M193.8 18.53L199.47 19.06L208.92 20.16L213.33 20.83L217.74 21.66L231.6 24.65L238.53 26.28L244.83 28.04L249.87 29.75L254.28 31.6L259.32 34.12L263.73 36.64L268.77 39.85L271.92 42.15L275.07 44.77L278.85 48.24L282.63 52.02L287.67 57.35L291.45 61.56L294.6 65.36L298.38 70.22L303.42 77.08L315.39 93.87L317.91 97.7L320.43 102.15L322.32 106.16L324.21 110.84L326.1 116.01L329.25 125.18L331.77 133.04L338.07 154.48L341.22 163.96L345 174.68" stroke="#ff00ff"/>
<path d="M193.8 17.27L208.92 17.75L213.33 18.09L219 18.74L232.23 20.6L239.79 21.83L247.35 23.43L249.87 24.09L252.39 24.87L257.43 26.79L262.47 29.09L268.77 32.39L273.18 35.03L277.59 38.09L282 41.57L286.41 45.45L290.82 49.7L293.34 52.37L295.86 55.25L298.38 58.35L300.9 61.68L303.42 65.25L305.94 69.07L310.35 76.39L311.61 78.8L313.5 82.95L319.17 96.95L321.06 101.31L322.95 105.13L327.99 114.18L329.88 118.1L331.14 121.14L333.03 126.54L336.18 137.17L341.22 155.94L345 172.17" stroke="#808000"/>
</g>
<g clip-path="url(#cli)">
<rect x="205.03" y="23.98" width="3.85" height="3.85" fill="#000000"/>
<rect x="225.54" y="30.77" width="3.85" height="3.85" fill="#000000"/>
<rect x="246.05" y="40.88" width="3.85" height="3.85" fill="#000000"/>
<rect x="266.57" y="56.67" width="3.85" height="3.85" fill="#000000"/>
<rect x="287.08" y="82.89" width="3.85" height="3.85" fill="#000000"/>
<rect x="307.59" y="119.47" width="3.85" height="3.85" fill="#000000"/>
<rect x="328.11" y="174.78" width="3.85" height="3.85" fill="#000000"/>
<circle cx="206.95" cy="18.37" r="2.2" fill="#ff0000"/>
<circle cx="227.47" cy="22.48" r="2.2" fill="#ff0000"/>
<circle cx="247.98" cy="30.42" r="2.2" fill="#ff0000"/>
<circle cx="268.49" cy="41.76" r="2.2" fill="#ff0000"/>
<circle cx="289.01" cy="64.4" r="2.2" fill="#ff0000"/>
<circle cx="309.52" cy="99.73" r="2.2" fill="#ff0000"/>
<circle cx="330.03" cy="145.37" r="2.2" fill="#ff0000"/>
<polygon points="206.95,18.42 209.26,22.6 204.64,22.6" fill="#0000ff"/>
<polygon points="227.47,22.27 229.78,26.45 225.16,26.45" fill="#0000ff"/>
<polygon points="247.98,29.9 250.29,34.08 245.67,34.08" fill="#0000ff"/>
<polygon points="268.49,43.9 270.8,48.08 266.18,48.08" fill="#0000ff"/>
<polygon points="289.01,65.52 291.32,69.7 286.7,69.7" fill="#0000ff"/>
<polygon points="309.52,96.89 311.83,101.07 307.21,101.07" fill="#0000ff"/>
<polygon points="330.03,136.05 332.34,140.23 327.72,140.23" fill="#0000ff"/>
<polygon points="206.95,21.75 209.54,16.94 204.37,16.94" fill="#008080"/>
<polygon points="227.47,25.39 230.05,20.58 224.88,20.58" fill="#008080"/>
<polygon points="247.98,31.74 250.56,26.93 245.39,26.93" fill="#008080"/>
<polygon points="268.49,45.59 271.08,40.78 265.91,40.78" fill="#008080"/>
<polygon points="289.01,65.08 291.59,60.27 286.42,60.27" fill="#008080"/>
<polygon points="309.52,93.98 312.1,89.18 306.93,89.18" fill="#008080"/>
<polygon points="330.03,122.23 332.62,117.43 327.45,117.43" fill="#008080"/>
<polygon points="204.75,19.92 208.93,17.56 208.93,22.29" fill="#ff00ff"/>
<polygon points="225.27,23.75 229.45,21.38 229.45,26.11" fill="#ff00ff"/>
<polygon points="245.78,29.07 249.96,26.7 249.96,31.43" fill="#ff00ff"/>
<polygon points="266.29,39.66 270.47,37.29 270.47,42.02" fill="#ff00ff"/>
<polygon points="286.81,58.8 290.99,56.44 290.99,61.17" fill="#ff00ff"/>
<polygon points="307.32,85.69 311.5,83.32 311.5,88.05" fill="#ff00ff"/>
<polygon points="327.83,127.5 332.01,125.13 332.01,129.86" fill="#ff00ff"/>
<polygon points="209.52,17.65 204.65,14.52 204.65,20.79" fill="#808000"/>
<polygon points="230.03,19.92 225.16,16.78 225.16,23.05" fill="#808000"/>
<polygon points="250.54,23.59 245.67,20.45 245.67,26.72" fill="#808000"/>
<polygon points="271.06,32.23 266.18,29.1 266.18,35.37" fill="#808000"/>
<polygon points="291.57,47.9 286.7,44.77 286.7,51.04" fill="#808000"/>
<polygon points="312.08,74.94 307.21,71.81 307.21,78.08" fill="#808000"/>
<polygon points="332.6,118.44 327.72,115.31 327.72,121.58" fill="#808000"/>
</g>
<rect x="207.8" y="10.9" width="114.59999999999997" height="92.19999999999999" fill="none" stroke="#000" stroke-width="1.1"/>
<line x1="205.8" y1="96.7" x2="207.8" y2="96.7" stroke="#000" stroke-width="1"/>
<text x="205" y="100.3" font-size="10.2" text-anchor="end">75</text>
<line x1="205.8" y1="80.6" x2="207.8" y2="80.6" stroke="#000" stroke-width="1"/>
<text x="205" y="84.2" font-size="10.2" text-anchor="end">80</text>
<line x1="205.8" y1="64.5" x2="207.8" y2="64.5" stroke="#000" stroke-width="1"/>
<text x="205" y="68.1" font-size="10.2" text-anchor="end">85</text>
<line x1="205.8" y1="48.4" x2="207.8" y2="48.4" stroke="#000" stroke-width="1"/>
<text x="205" y="52" font-size="10.2" text-anchor="end">90</text>
<line x1="205.8" y1="32.3" x2="207.8" y2="32.3" stroke="#000" stroke-width="1"/>
<text x="205" y="35.9" font-size="10.2" text-anchor="end">95</text>
<line x1="205.8" y1="16.2" x2="207.8" y2="16.2" stroke="#000" stroke-width="1"/>
<text x="205" y="19.8" font-size="10.2" text-anchor="end">100</text>
<line x1="206.6" y1="88.65" x2="207.8" y2="88.65" stroke="#000" stroke-width="1"/>
<line x1="206.6" y1="72.55" x2="207.8" y2="72.55" stroke="#000" stroke-width="1"/>
<line x1="206.6" y1="56.45" x2="207.8" y2="56.45" stroke="#000" stroke-width="1"/>
<line x1="206.6" y1="40.35" x2="207.8" y2="40.35" stroke="#000" stroke-width="1"/>
<line x1="206.6" y1="24.25" x2="207.8" y2="24.25" stroke="#000" stroke-width="1"/>
<line x1="223.4" y1="103.1" x2="223.4" y2="105" stroke="#000" stroke-width="1"/>
<text x="223.4" y="114.3" font-size="10.2" text-anchor="middle">220</text>
<line x1="250.8" y1="103.1" x2="250.8" y2="105" stroke="#000" stroke-width="1"/>
<text x="250.8" y="114.3" font-size="10.2" text-anchor="middle">240</text>
<line x1="278.2" y1="103.1" x2="278.2" y2="105" stroke="#000" stroke-width="1"/>
<text x="278.2" y="114.3" font-size="10.2" text-anchor="middle">260</text>
<line x1="305.6" y1="103.1" x2="305.6" y2="105" stroke="#000" stroke-width="1"/>
<text x="305.6" y="114.3" font-size="10.2" text-anchor="middle">280</text>
<line x1="209.7" y1="103.1" x2="209.7" y2="104.2" stroke="#000" stroke-width="1"/>
<line x1="237.1" y1="103.1" x2="237.1" y2="104.2" stroke="#000" stroke-width="1"/>
<line x1="264.5" y1="103.1" x2="264.5" y2="104.2" stroke="#000" stroke-width="1"/>
<line x1="291.9" y1="103.1" x2="291.9" y2="104.2" stroke="#000" stroke-width="1"/>
<line x1="319.3" y1="103.1" x2="319.3" y2="104.2" stroke="#000" stroke-width="1"/>
<text x="224.3" y="125.1" font-size="10.3">Temperature [<tspan font-size="6.3" dy="-3.5">o</tspan><tspan dy="3.5">C]</tspan></text>
<text transform="translate(188.7,77) rotate(-90)" font-size="10.3">Mass [%]</text>
<line x1="167.9" y1="27.4" x2="178" y2="27.4" stroke="#000" stroke-width="1.2"/>
<polygon points="183.1,27.4 176.9,25.6 176.9,29.2" fill="#000"/>
<rect x="502.3" y="70.7" width="33.7" height="142.5" fill="#c0c0c0"/>
<g clip-path="url(#cr)" fill="none" stroke-width="0.6">
<path d="M391.88 14.61L394.54 14.61L395.87 14.97L397.2 16.59L398.53 17.66L421.17 17.69L438.47 17.9L443.8 18.17L450.45 18.91L453.12 19.33L454.45 19.66L457.11 20.5L465.1 23.64L467.76 24.81L470.42 26.25L471.75 27.16L481.07 34.41L483.73 36.7L486.4 39.18L487.73 40.59L489.06 42.22L490.39 44.19L491.72 46.66L494.38 52.55L497.05 58.7L498.38 61.97L499.71 65.8L501.04 70.5L502.37 72.91L503.7 71.7L505.03 70.98L506.37 70.74L507.7 70.66L509.03 70.74L510.36 71.3L511.69 81.66L513.02 105.27L514.35 151.2L515.68 203.23L517.02 210.3L518.35 166.45L519.68 117.15L521.01 71.86L522.34 54.84L523.67 46.81L525 41.99L526.33 39.18L527.67 37.58L529 36.52L530.33 36.02L535.65 34.9L536.98 34.39L538.32 33.65L546.3 28.09L548.97 26.04L550.3 24.8L552.96 21.76L554.29 20.75L556.95 20.02L559.62 19.59L562.28 19.51L567.6 19.65L568.93 19.74L571.6 20.21L575.59 21.29L578.25 22.38L580.92 23.78L583.58 25.42L587.57 28.43L594.23 33.22L595.56 34.09L600.88 37.22L602.22 38.13L603.55 39.44L604.88 40.9L606.21 42.05L607.54 42.37L608.87 41.76L610.2 40.56L614.2 36.23L616.86 32.96L618.19 31.47L620.85 28.69L623.52 26.3L626.18 24.28L627.51 23.39L631.5 21.12L632.83 20.47L634.17 19.93L636.83 19.22L640.82 18.53L644.82 18.19L648.81 17.96L651.47 17.9L688.75 17.9" stroke="#000000"/>
<path d="M391.88 16.7L394.54 16.7L395.87 16.81L397.2 17.32L398.53 17.66L423.83 17.71L437.14 17.88L441.13 18L445.13 18.31L449.12 18.77L455.78 19.7L458.44 20.19L462.43 21.14L466.43 22.34L469.09 23.44L473.08 25.5L475.75 27.19L477.08 28.17L479.74 30.33L483.73 34.01L486.4 36.89L489.06 40.31L490.39 42.38L491.72 44.78L493.05 47.43L497.05 56.01L499.71 63.69L501.04 67.14L502.37 69.42L503.7 69.97L506.37 70.07L507.7 70.22L509.03 70.5L510.36 70.9L511.69 74.91L513.02 83.26L515.68 131.12L517.02 151.2L518.35 166.05L519.68 141.56L523.67 71.86L525 62.87L526.33 56.44L527.67 51.44L529 47.59L530.33 45.61L531.66 44.27L532.99 43.24L535.65 41.38L542.31 35.73L547.63 31.36L548.97 30.05L550.3 28.28L552.96 24.08L554.29 22.55L556.95 20.88L558.28 20.22L559.62 19.75L560.95 19.52L564.94 19.56L568.93 19.74L570.27 19.93L572.93 20.54L575.59 21.29L576.92 21.79L578.25 22.38L580.92 23.78L583.58 25.42L587.57 28.43L594.23 33.22L595.56 34.09L600.88 37.22L602.22 38.13L603.55 39.44L604.88 40.9L606.21 42.05L607.54 42.37L608.87 41.76L610.2 40.56L614.2 36.23L616.86 32.96L618.19 31.47L620.85 28.69L623.52 26.3L626.18 24.28L627.51 23.39L631.5 21.12L632.83 20.47L634.17 19.93L636.83 19.22L640.82 18.53L644.82 18.19L648.81 17.96L651.47 17.9L688.75 17.9" stroke="#ff0000"/>
<path d="M391.88 16.7L394.54 16.7L395.87 16.81L397.2 17.32L398.53 17.66L422.5 17.7L441.13 17.98L445.13 18.21L449.12 18.55L457.11 19.44L461.1 20.15L465.1 21.1L467.76 21.95L470.42 23.08L474.42 25.14L477.08 26.72L479.74 28.68L482.4 30.94L485.07 33.47L486.4 34.87L489.06 38.07L490.39 39.92L491.72 42.05L493.05 44.41L495.72 49.63L497.05 52.73L499.71 60.55L501.04 64.13L502.37 66.68L503.7 67.92L505.03 68.76L506.37 69.38L507.7 69.84L510.36 70.5L511.69 71.3L513.02 72.5L514.35 81.34L515.68 94.99L517.02 111.05L518.35 128.71L519.68 133.53L521.01 121.49L522.34 103.82L523.67 83.75L525 75.72L526.33 70.9L529 55.27L530.33 52.33L531.66 50.65L535.65 47.2L536.98 45.61L540.98 40.2L542.31 38.53L543.64 37.07L547.63 33.44L548.97 32.03L550.3 30.19L552.96 24.97L554.29 23.01L555.62 21.96L556.95 21.06L558.28 20.31L559.62 19.77L560.95 19.52L564.94 19.56L568.93 19.74L570.27 19.93L572.93 20.54L575.59 21.29L576.92 21.79L578.25 22.38L580.92 23.78L583.58 25.42L587.57 28.43L594.23 33.22L595.56 34.09L600.88 37.22L602.22 38.13L603.55 39.44L604.88 40.9L606.21 42.05L607.54 42.37L608.87 41.76L610.2 40.56L614.2 36.23L616.86 32.96L618.19 31.47L620.85 28.69L623.52 26.3L626.18 24.28L627.51 23.39L631.5 21.12L632.83 20.47L634.17 19.93L636.83 19.22L640.82 18.53L644.82 18.19L648.81 17.96L651.47 17.9L688.75 17.9" stroke="#0000ff"/>
<path d="M391.88 14.93L394.54 14.93L395.87 15.25L397.2 16.7L398.53 17.66L419.83 17.69L447.79 18.03L461.1 18.35L467.76 18.79L471.75 19.34L473.08 19.63L474.42 20.11L475.75 20.78L477.08 21.58L479.74 23.34L482.4 25.39L485.07 27.87L486.4 29.25L487.73 30.77L490.39 34.35L493.05 38.3L495.72 42.49L498.38 47.06L499.71 49.52L501.04 52.14L503.7 57.93L506.37 64.72L507.7 66.67L509.03 68.16L511.69 70.5L513.02 71.46L514.35 73.31L515.68 76.76L517.02 82.94L518.35 90.81L519.68 97.4L521.01 103.34L522.34 103.02L523.67 99.24L525 91.78L527.67 81.34L529 77.48L531.66 70.9L532.99 68.94L534.32 67.34L535.65 65.22L536.98 62.43L538.32 59.21L540.98 52.29L542.31 48.56L544.97 40.43L546.3 36.69L547.63 33.61L550.3 28.43L551.63 26.11L552.96 24.11L554.29 22.52L555.62 21.45L556.95 20.65L558.28 20.01L559.62 19.68L568.93 19.71L570.27 19.89L571.6 20.17L575.59 21.29L576.92 21.79L578.25 22.38L580.92 23.78L583.58 25.42L587.57 28.43L594.23 33.22L595.56 34.09L600.88 37.22L602.22 38.13L603.55 39.44L604.88 40.9L606.21 42.05L607.54 42.37L608.87 41.76L610.2 40.56L614.2 36.23L616.86 32.96L618.19 31.47L620.85 28.69L623.52 26.3L626.18 24.28L627.51 23.39L631.5 21.12L632.83 20.47L634.17 19.93L636.83 19.22L640.82 18.53L644.82 18.19L648.81 17.96L651.47 17.9L688.75 17.9" stroke="#008080"/>
<path d="M391.88 19.02L394.54 19.02L395.87 18.86L397.2 18.14L398.53 17.66L399.87 17.66L421.17 17.69L439.8 17.93L447.79 18.32L455.78 19L459.77 19.62L467.76 21.27L471.75 22.25L474.42 23.08L475.75 23.58L477.08 24.19L478.41 24.97L481.07 26.87L483.73 29.05L486.4 31.69L489.06 34.82L490.39 36.61L493.05 40.79L495.72 45.58L497.05 48.23L501.04 57.65L502.37 60.36L503.7 62.63L506.37 66.56L507.7 68.26L509.03 69.64L510.36 71.3L511.69 74.11L513.02 78.12L514.35 87.76L515.68 100.61L518.35 134.01L519.68 131.93L522.34 105.43L523.67 93.62L525 82.94L526.33 74.67L527.67 70.09L529 64.44L530.33 61.19L531.66 58.66L535.65 52.6L540.98 43.42L547.63 32.36L552.96 24.03L554.29 22.55L556.95 20.87L558.28 20.21L559.62 19.74L560.95 19.52L564.94 19.56L568.93 19.74L570.27 19.93L572.93 20.54L575.59 21.29L576.92 21.79L578.25 22.38L580.92 23.78L583.58 25.42L587.57 28.43L594.23 33.22L595.56 34.09L600.88 37.22L602.22 38.13L603.55 39.44L604.88 40.9L606.21 42.05L607.54 42.37L608.87 41.76L610.2 40.56L614.2 36.23L616.86 32.96L618.19 31.47L620.85 28.69L623.52 26.3L626.18 24.28L627.51 23.39L631.5 21.12L632.83 20.47L634.17 19.93L636.83 19.22L640.82 18.53L644.82 18.19L648.81 17.96L651.47 17.9L688.75 17.9" stroke="#ff00ff"/>
<path d="M391.88 16.53L394.54 16.53L395.87 16.67L397.2 17.26L398.53 17.66L421.17 17.7L450.45 18.07L461.1 18.35L470.42 19.01L473.08 19.35L474.42 19.65L475.75 20.16L477.08 20.85L481.07 23.38L482.4 24.38L485.07 26.73L487.73 29.44L490.39 32.68L494.38 38.36L497.05 42.54L498.38 44.81L501.04 49.84L506.37 62.14L507.7 65.66L509.03 70.04L510.36 75.72L511.69 84.55L513.02 94.99L515.68 126.3L517.02 133.53L518.35 138.83L519.68 135.14L521.01 128.71L525 90.17L526.33 80.94L527.67 77.32L529 75.15L530.33 70.9L532.99 59.94L534.32 55.43L535.65 52.17L536.98 49.39L543.64 37.42L546.3 32.93L550.3 26.57L551.63 24.61L552.96 23.04L554.29 21.95L555.62 20.99L556.95 20.25L558.28 19.91L563.61 19.71L568.93 19.71L570.27 19.89L571.6 20.17L575.59 21.29L576.92 21.79L578.25 22.38L580.92 23.78L583.58 25.42L587.57 28.43L594.23 33.22L595.56 34.09L600.88 37.22L602.22 38.13L603.55 39.44L604.88 40.9L606.21 42.05L607.54 42.37L608.87 41.76L610.2 40.56L614.2 36.23L616.86 32.96L618.19 31.47L620.85 28.69L623.52 26.3L626.18 24.28L627.51 23.39L631.5 21.12L632.83 20.47L634.17 19.93L636.83 19.22L640.82 18.53L644.82 18.19L648.81 17.96L651.47 17.9L688.75 17.9" stroke="#808000"/>
</g>
<g clip-path="url(#cr)">
<rect x="388.21" y="12.86" width="3.5" height="3.5" fill="#000000"/>
<rect x="395.35" y="14.71" width="3.5" height="3.5" fill="#000000"/>
<rect x="401.79" y="15.91" width="3.5" height="3.5" fill="#000000"/>
<rect x="408.42" y="15.91" width="3.5" height="3.5" fill="#000000"/>
<rect x="414.93" y="15.92" width="3.5" height="3.5" fill="#000000"/>
<rect x="421.39" y="15.95" width="3.5" height="3.5" fill="#000000"/>
<rect x="427.84" y="16.02" width="3.5" height="3.5" fill="#000000"/>
<rect x="434.33" y="16.11" width="3.5" height="3.5" fill="#000000"/>
<rect x="440.87" y="16.33" width="3.5" height="3.5" fill="#000000"/>
<rect x="447.47" y="17" width="3.5" height="3.5" fill="#000000"/>
<rect x="454.09" y="18.32" width="3.5" height="3.5" fill="#000000"/>
<rect x="460.73" y="20.86" width="3.5" height="3.5" fill="#000000"/>
<rect x="467.39" y="23.76" width="3.5" height="3.5" fill="#000000"/>
<rect x="474.06" y="28.62" width="3.5" height="3.5" fill="#000000"/>
<rect x="480.75" y="33.85" width="3.5" height="3.5" fill="#000000"/>
<rect x="487.47" y="40.7" width="3.5" height="3.5" fill="#000000"/>
<rect x="494.22" y="54.47" width="3.5" height="3.5" fill="#000000"/>
<rect x="541.11" y="28.73" width="3.5" height="3.5" fill="#000000"/>
<rect x="547.61" y="23.93" width="3.5" height="3.5" fill="#000000"/>
<rect x="554.11" y="18.54" width="3.5" height="3.5" fill="#000000"/>
<rect x="560.64" y="17.76" width="3.5" height="3.5" fill="#000000"/>
<rect x="567.21" y="18" width="3.5" height="3.5" fill="#000000"/>
<rect x="573.82" y="19.53" width="3.5" height="3.5" fill="#000000"/>
<rect x="580.46" y="22.77" width="3.5" height="3.5" fill="#000000"/>
<rect x="587.14" y="27.64" width="3.5" height="3.5" fill="#000000"/>
<rect x="593.85" y="32.37" width="3.5" height="3.5" fill="#000000"/>
<rect x="600.59" y="36.51" width="3.5" height="3.5" fill="#000000"/>
<rect x="607.37" y="39.79" width="3.5" height="3.5" fill="#000000"/>
<rect x="614.17" y="32.37" width="3.5" height="3.5" fill="#000000"/>
<rect x="620.98" y="25.21" width="3.5" height="3.5" fill="#000000"/>
<rect x="627.8" y="20.45" width="3.5" height="3.5" fill="#000000"/>
<rect x="634.59" y="17.59" width="3.5" height="3.5" fill="#000000"/>
<rect x="641.34" y="16.57" width="3.5" height="3.5" fill="#000000"/>
<rect x="648.03" y="16.18" width="3.5" height="3.5" fill="#000000"/>
<rect x="654.66" y="16.15" width="3.5" height="3.5" fill="#000000"/>
<rect x="661.23" y="16.15" width="3.5" height="3.5" fill="#000000"/>
<rect x="667.75" y="16.15" width="3.5" height="3.5" fill="#000000"/>
<rect x="674.23" y="16.15" width="3.5" height="3.5" fill="#000000"/>
<rect x="680.71" y="16.15" width="3.5" height="3.5" fill="#000000"/>
<rect x="687.19" y="16.15" width="3.5" height="3.5" fill="#000000"/>
<rect x="500.85" y="72.05" width="3.5" height="3.5" fill="#000000"/>
<rect x="507.65" y="69.25" width="3.5" height="3.5" fill="#000000"/>
<rect x="513.85" y="201.75" width="3.5" height="3.5" fill="#000000"/>
<rect x="521.15" y="52.45" width="3.5" height="3.5" fill="#000000"/>
<rect x="527.75" y="34.85" width="3.5" height="3.5" fill="#000000"/>
<rect x="534.35" y="33.55" width="3.5" height="3.5" fill="#000000"/>
<circle cx="389.96" cy="16.7" r="2" fill="#ff0000"/>
<circle cx="394" cy="16.7" r="2" fill="#ff0000"/>
<circle cx="403.54" cy="17.66" r="2" fill="#ff0000"/>
<circle cx="410.17" cy="17.66" r="2" fill="#ff0000"/>
<circle cx="416.68" cy="17.67" r="2" fill="#ff0000"/>
<circle cx="423.14" cy="17.7" r="2" fill="#ff0000"/>
<circle cx="429.59" cy="17.77" r="2" fill="#ff0000"/>
<circle cx="436.08" cy="17.86" r="2" fill="#ff0000"/>
<circle cx="442.62" cy="18.09" r="2" fill="#ff0000"/>
<circle cx="449.22" cy="18.78" r="2" fill="#ff0000"/>
<circle cx="455.84" cy="19.71" r="2" fill="#ff0000"/>
<circle cx="462.48" cy="21.15" r="2" fill="#ff0000"/>
<circle cx="469.14" cy="23.46" r="2" fill="#ff0000"/>
<circle cx="475.81" cy="27.23" r="2" fill="#ff0000"/>
<circle cx="482.5" cy="32.81" r="2" fill="#ff0000"/>
<circle cx="489.22" cy="40.55" r="2" fill="#ff0000"/>
<circle cx="495.97" cy="53.61" r="2" fill="#ff0000"/>
<circle cx="542.86" cy="35.27" r="2" fill="#ff0000"/>
<circle cx="549.36" cy="29.53" r="2" fill="#ff0000"/>
<circle cx="555.86" cy="21.53" r="2" fill="#ff0000"/>
<circle cx="562.39" cy="19.51" r="2" fill="#ff0000"/>
<circle cx="568.96" cy="19.75" r="2" fill="#ff0000"/>
<circle cx="575.57" cy="21.28" r="2" fill="#ff0000"/>
<circle cx="582.21" cy="24.52" r="2" fill="#ff0000"/>
<circle cx="588.89" cy="29.39" r="2" fill="#ff0000"/>
<circle cx="595.6" cy="34.12" r="2" fill="#ff0000"/>
<circle cx="602.34" cy="38.26" r="2" fill="#ff0000"/>
<circle cx="609.12" cy="41.54" r="2" fill="#ff0000"/>
<circle cx="615.92" cy="34.12" r="2" fill="#ff0000"/>
<circle cx="622.73" cy="26.96" r="2" fill="#ff0000"/>
<circle cx="629.55" cy="22.2" r="2" fill="#ff0000"/>
<circle cx="636.34" cy="19.34" r="2" fill="#ff0000"/>
<circle cx="643.09" cy="18.32" r="2" fill="#ff0000"/>
<circle cx="649.78" cy="17.93" r="2" fill="#ff0000"/>
<circle cx="656.41" cy="17.9" r="2" fill="#ff0000"/>
<circle cx="662.98" cy="17.9" r="2" fill="#ff0000"/>
<circle cx="669.5" cy="17.9" r="2" fill="#ff0000"/>
<circle cx="675.98" cy="17.9" r="2" fill="#ff0000"/>
<circle cx="682.46" cy="17.9" r="2" fill="#ff0000"/>
<circle cx="688.94" cy="17.9" r="2" fill="#ff0000"/>
<circle cx="502.6" cy="69.5" r="2" fill="#ff0000"/>
<circle cx="509" cy="69.8" r="2" fill="#ff0000"/>
<circle cx="515.6" cy="131.6" r="2" fill="#ff0000"/>
<circle cx="522.6" cy="91.4" r="2" fill="#ff0000"/>
<circle cx="529.5" cy="46.7" r="2" fill="#ff0000"/>
<circle cx="536.1" cy="41" r="2" fill="#ff0000"/>
<polygon points="389.96,14.7 392.06,18.5 387.86,18.5" fill="#0000ff"/>
<polygon points="394,14.7 396.1,18.5 391.9,18.5" fill="#0000ff"/>
<polygon points="403.54,15.66 405.64,19.46 401.44,19.46" fill="#0000ff"/>
<polygon points="410.17,15.66 412.27,19.46 408.07,19.46" fill="#0000ff"/>
<polygon points="416.68,15.67 418.78,19.47 414.58,19.47" fill="#0000ff"/>
<polygon points="423.14,15.7 425.24,19.5 421.04,19.5" fill="#0000ff"/>
<polygon points="429.59,15.77 431.69,19.57 427.49,19.57" fill="#0000ff"/>
<polygon points="436.08,15.86 438.18,19.66 433.98,19.66" fill="#0000ff"/>
<polygon points="442.62,16.05 444.72,19.85 440.52,19.85" fill="#0000ff"/>
<polygon points="449.22,16.55 451.32,20.35 447.12,20.35" fill="#0000ff"/>
<polygon points="455.84,17.27 457.94,21.07 453.74,21.07" fill="#0000ff"/>
<polygon points="462.48,18.45 464.58,22.25 460.38,22.25" fill="#0000ff"/>
<polygon points="469.14,20.51 471.24,24.31 467.04,24.31" fill="#0000ff"/>
<polygon points="475.81,23.94 477.91,27.74 473.71,27.74" fill="#0000ff"/>
<polygon points="482.5,29.03 484.6,32.83 480.4,32.83" fill="#0000ff"/>
<polygon points="489.22,36.29 491.32,40.09 487.12,40.09" fill="#0000ff"/>
<polygon points="495.97,48.23 498.07,52.03 493.87,52.03" fill="#0000ff"/>
<polygon points="542.86,35.93 544.96,39.73 540.76,39.73" fill="#0000ff"/>
<polygon points="549.36,29.49 551.46,33.29 547.26,33.29" fill="#0000ff"/>
<polygon points="555.86,19.8 557.96,23.6 553.76,23.6" fill="#0000ff"/>
<polygon points="562.39,17.51 564.49,21.31 560.29,21.31" fill="#0000ff"/>
<polygon points="568.96,17.75 571.06,21.55 566.86,21.55" fill="#0000ff"/>
<polygon points="575.57,19.28 577.67,23.08 573.47,23.08" fill="#0000ff"/>
<polygon points="582.21,22.52 584.31,26.32 580.11,26.32" fill="#0000ff"/>
<polygon points="588.89,27.39 590.99,31.19 586.79,31.19" fill="#0000ff"/>
<polygon points="595.6,32.12 597.7,35.92 593.5,35.92" fill="#0000ff"/>
<polygon points="602.34,36.26 604.44,40.06 600.24,40.06" fill="#0000ff"/>
<polygon points="609.12,39.54 611.22,43.34 607.02,43.34" fill="#0000ff"/>
<polygon points="615.92,32.12 618.02,35.92 613.82,35.92" fill="#0000ff"/>
<polygon points="622.73,24.96 624.83,28.76 620.63,28.76" fill="#0000ff"/>
<polygon points="629.55,20.2 631.65,24 627.45,24" fill="#0000ff"/>
<polygon points="636.34,17.34 638.44,21.14 634.24,21.14" fill="#0000ff"/>
<polygon points="643.09,16.32 645.19,20.12 640.99,20.12" fill="#0000ff"/>
<polygon points="649.78,15.93 651.88,19.73 647.68,19.73" fill="#0000ff"/>
<polygon points="656.41,15.9 658.51,19.7 654.31,19.7" fill="#0000ff"/>
<polygon points="662.98,15.9 665.08,19.7 660.88,19.7" fill="#0000ff"/>
<polygon points="669.5,15.9 671.6,19.7 667.4,19.7" fill="#0000ff"/>
<polygon points="675.98,15.9 678.08,19.7 673.88,19.7" fill="#0000ff"/>
<polygon points="682.46,15.9 684.56,19.7 680.36,19.7" fill="#0000ff"/>
<polygon points="688.94,15.9 691.04,19.7 686.84,19.7" fill="#0000ff"/>
<polygon points="502.6,64.6 504.7,68.4 500.5,68.4" fill="#0000ff"/>
<polygon points="509,69 511.1,72.8 506.9,72.8" fill="#0000ff"/>
<polygon points="515.9,96.4 518,100.2 513.8,100.2" fill="#0000ff"/>
<polygon points="522.9,103.8 525,107.6 520.8,107.6" fill="#0000ff"/>
<polygon points="529.5,51.8 531.6,55.6 527.4,55.6" fill="#0000ff"/>
<polygon points="536.1,44.7 538.2,48.5 534,48.5" fill="#0000ff"/>
<polygon points="387.65,17.23 390,12.86 385.3,12.86" fill="#008080"/>
<polygon points="394.8,17.29 397.15,12.92 392.45,12.92" fill="#008080"/>
<polygon points="400.95,19.96 403.3,15.59 398.6,15.59" fill="#008080"/>
<polygon points="407.59,19.96 409.94,15.59 405.24,15.59" fill="#008080"/>
<polygon points="414.24,19.96 416.59,15.59 411.89,15.59" fill="#008080"/>
<polygon points="420.89,20 423.24,15.63 418.54,15.63" fill="#008080"/>
<polygon points="427.54,20.06 429.89,15.69 425.19,15.69" fill="#008080"/>
<polygon points="434.18,20.15 436.53,15.78 431.83,15.78" fill="#008080"/>
<polygon points="440.83,20.23 443.18,15.86 438.48,15.86" fill="#008080"/>
<polygon points="447.48,20.32 449.83,15.95 445.13,15.95" fill="#008080"/>
<polygon points="454.13,20.45 456.48,16.08 451.78,16.08" fill="#008080"/>
<polygon points="460.78,20.64 463.13,16.27 458.43,16.27" fill="#008080"/>
<polygon points="467.44,21.06 469.79,16.69 465.09,16.69" fill="#008080"/>
<polygon points="474.11,22.3 476.46,17.93 471.76,17.93" fill="#008080"/>
<polygon points="480.8,26.41 483.15,22.04 478.45,22.04" fill="#008080"/>
<polygon points="487.52,32.83 489.87,28.46 485.17,28.46" fill="#008080"/>
<polygon points="494.27,42.47 496.62,38.1 491.92,38.1" fill="#008080"/>
<polygon points="541.16,54.09 543.51,49.72 538.81,49.72" fill="#008080"/>
<polygon points="547.66,35.87 550.01,31.5 545.31,31.5" fill="#008080"/>
<polygon points="554.16,24.98 556.51,20.61 551.81,20.61" fill="#008080"/>
<polygon points="560.68,21.97 563.03,17.6 558.33,17.6" fill="#008080"/>
<polygon points="567.24,21.97 569.59,17.6 564.89,17.6" fill="#008080"/>
<polygon points="573.83,23.07 576.18,18.7 571.48,18.7" fill="#008080"/>
<polygon points="580.44,25.83 582.79,21.46 578.09,21.46" fill="#008080"/>
<polygon points="587.07,30.35 589.42,25.98 584.72,25.98" fill="#008080"/>
<polygon points="593.71,35.17 596.06,30.8 591.36,30.8" fill="#008080"/>
<polygon points="600.36,39.2 602.71,34.83 598.01,34.83" fill="#008080"/>
<polygon points="607,44.54 609.35,40.17 604.65,40.17" fill="#008080"/>
<polygon points="613.65,39.14 616,34.77 611.3,34.77" fill="#008080"/>
<polygon points="620.3,31.56 622.65,27.19 617.95,27.19" fill="#008080"/>
<polygon points="626.95,26.07 629.3,21.7 624.6,21.7" fill="#008080"/>
<polygon points="633.59,22.46 635.94,18.09 631.24,18.09" fill="#008080"/>
<polygon points="640.24,20.91 642.59,16.54 637.89,16.54" fill="#008080"/>
<polygon points="646.89,20.35 649.24,15.98 644.54,15.98" fill="#008080"/>
<polygon points="653.53,20.2 655.88,15.83 651.18,15.83" fill="#008080"/>
<polygon points="660.18,20.2 662.53,15.83 657.83,15.83" fill="#008080"/>
<polygon points="666.83,20.2 669.18,15.83 664.48,15.83" fill="#008080"/>
<polygon points="673.47,20.2 675.82,15.83 671.12,15.83" fill="#008080"/>
<polygon points="680.12,20.2 682.47,15.83 677.77,15.83" fill="#008080"/>
<polygon points="686.77,20.2 689.12,15.83 684.42,15.83" fill="#008080"/>
<polygon points="501.6,53.8 503.95,49.43 499.25,49.43" fill="#008080"/>
<polygon points="508.2,68.8 510.55,64.43 505.85,64.43" fill="#008080"/>
<polygon points="515,74.9 517.35,70.53 512.65,70.53" fill="#008080"/>
<polygon points="521.3,105.7 523.65,101.33 518.95,101.33" fill="#008080"/>
<polygon points="528.2,82.3 530.55,77.93 525.85,77.93" fill="#008080"/>
<polygon points="535.2,68.5 537.55,64.13 532.85,64.13" fill="#008080"/>
<polygon points="387.86,19.02 391.85,16.77 391.85,21.28" fill="#ff00ff"/>
<polygon points="392.1,19.02 396.09,16.77 396.09,21.28" fill="#ff00ff"/>
<polygon points="401.44,17.66 405.43,15.4 405.43,19.92" fill="#ff00ff"/>
<polygon points="408.07,17.66 412.06,15.4 412.06,19.92" fill="#ff00ff"/>
<polygon points="414.58,17.67 418.57,15.41 418.57,19.93" fill="#ff00ff"/>
<polygon points="421.04,17.71 425.03,15.45 425.03,19.96" fill="#ff00ff"/>
<polygon points="427.49,17.77 431.48,15.51 431.48,20.03" fill="#ff00ff"/>
<polygon points="433.98,17.86 437.97,15.6 437.97,20.12" fill="#ff00ff"/>
<polygon points="440.52,18.02 444.51,15.77 444.51,20.28" fill="#ff00ff"/>
<polygon points="447.12,18.42 451.11,16.16 451.11,20.68" fill="#ff00ff"/>
<polygon points="453.74,19.01 457.73,16.75 457.73,21.27" fill="#ff00ff"/>
<polygon points="460.38,20.15 464.37,17.89 464.37,22.41" fill="#ff00ff"/>
<polygon points="467.04,21.58 471.03,19.33 471.03,23.84" fill="#ff00ff"/>
<polygon points="473.71,23.61 477.7,21.35 477.7,25.87" fill="#ff00ff"/>
<polygon points="480.4,28.01 484.39,25.75 484.39,30.26" fill="#ff00ff"/>
<polygon points="487.12,35.04 491.11,32.78 491.11,37.29" fill="#ff00ff"/>
<polygon points="493.87,46.09 497.86,43.83 497.86,48.34" fill="#ff00ff"/>
<polygon points="540.76,40.27 544.75,38.01 544.75,42.53" fill="#ff00ff"/>
<polygon points="547.26,29.66 551.25,27.41 551.25,31.92" fill="#ff00ff"/>
<polygon points="553.76,21.52 557.75,19.26 557.75,23.78" fill="#ff00ff"/>
<polygon points="560.29,19.51 564.28,17.25 564.28,21.77" fill="#ff00ff"/>
<polygon points="566.86,19.75 570.85,17.49 570.85,22" fill="#ff00ff"/>
<polygon points="573.47,21.28 577.46,19.03 577.46,23.54" fill="#ff00ff"/>
<polygon points="580.11,24.52 584.1,22.27 584.1,26.78" fill="#ff00ff"/>
<polygon points="586.79,29.39 590.78,27.13 590.78,31.64" fill="#ff00ff"/>
<polygon points="593.5,34.12 597.49,31.86 597.49,36.38" fill="#ff00ff"/>
<polygon points="600.24,38.26 604.23,36 604.23,40.52" fill="#ff00ff"/>
<polygon points="607.02,41.54 611.01,39.28 611.01,43.8" fill="#ff00ff"/>
<polygon points="613.82,34.12 617.81,31.86 617.81,36.37" fill="#ff00ff"/>
<polygon points="620.63,26.96 624.62,24.7 624.62,29.22" fill="#ff00ff"/>
<polygon points="627.45,22.2 631.44,19.94 631.44,24.45" fill="#ff00ff"/>
<polygon points="634.24,19.34 638.23,17.08 638.23,21.59" fill="#ff00ff"/>
<polygon points="640.99,18.32 644.98,16.06 644.98,20.58" fill="#ff00ff"/>
<polygon points="647.68,17.93 651.67,15.67 651.67,20.19" fill="#ff00ff"/>
<polygon points="654.31,17.9 658.3,15.64 658.3,20.16" fill="#ff00ff"/>
<polygon points="660.88,17.9 664.87,15.64 664.87,20.16" fill="#ff00ff"/>
<polygon points="667.4,17.9 671.39,15.64 671.39,20.16" fill="#ff00ff"/>
<polygon points="673.88,17.9 677.87,15.64 677.87,20.16" fill="#ff00ff"/>
<polygon points="680.36,17.9 684.35,15.64 684.35,20.16" fill="#ff00ff"/>
<polygon points="686.84,17.9 690.83,15.64 690.83,20.16" fill="#ff00ff"/>
<polygon points="500.5,60.9 504.49,58.64 504.49,63.16" fill="#ff00ff"/>
<polygon points="507.5,65.2 511.49,62.94 511.49,67.46" fill="#ff00ff"/>
<polygon points="513.8,101.9 517.79,99.64 517.79,104.16" fill="#ff00ff"/>
<polygon points="520.3,105.3 524.29,103.04 524.29,107.56" fill="#ff00ff"/>
<polygon points="526.7,65.8 530.69,63.54 530.69,68.06" fill="#ff00ff"/>
<polygon points="534,51.9 537.99,49.64 537.99,54.16" fill="#ff00ff"/>
<polygon points="389.26,16.53 385.26,13.96 385.26,19.11" fill="#808000"/>
<polygon points="395.91,16.53 391.9,13.96 391.9,19.11" fill="#808000"/>
<polygon points="402.55,17.66 398.55,15.09 398.55,20.23" fill="#808000"/>
<polygon points="409.2,17.66 405.2,15.09 405.2,20.23" fill="#808000"/>
<polygon points="415.85,17.66 411.85,15.09 411.85,20.24" fill="#808000"/>
<polygon points="422.49,17.69 418.49,15.12 418.49,20.27" fill="#808000"/>
<polygon points="429.14,17.76 425.14,15.18 425.14,20.33" fill="#808000"/>
<polygon points="435.79,17.84 431.79,15.26 431.79,20.41" fill="#808000"/>
<polygon points="442.44,17.92 438.43,15.35 438.43,20.5" fill="#808000"/>
<polygon points="449.08,18.01 445.08,15.44 445.08,20.59" fill="#808000"/>
<polygon points="455.73,18.14 451.73,15.56 451.73,20.71" fill="#808000"/>
<polygon points="462.38,18.32 458.38,15.74 458.38,20.89" fill="#808000"/>
<polygon points="469.04,18.72 465.04,16.14 465.04,21.29" fill="#808000"/>
<polygon points="475.71,19.47 471.71,16.89 471.71,22.04" fill="#808000"/>
<polygon points="482.4,22.87 478.4,20.29 478.4,25.44" fill="#808000"/>
<polygon points="489.12,28.69 485.12,26.12 485.12,31.27" fill="#808000"/>
<polygon points="495.88,37.46 491.88,34.88 491.88,40.03" fill="#808000"/>
<polygon points="542.76,42.79 538.76,40.21 538.76,45.36" fill="#808000"/>
<polygon points="549.26,31.58 545.26,29.01 545.26,34.16" fill="#808000"/>
<polygon points="555.76,22.47 551.76,19.89 551.76,25.04" fill="#808000"/>
<polygon points="562.29,19.82 558.29,17.25 558.29,22.4" fill="#808000"/>
<polygon points="568.84,19.67 564.84,17.1 564.84,22.24" fill="#808000"/>
<polygon points="575.44,20.63 571.43,18.06 571.43,23.21" fill="#808000"/>
<polygon points="582.05,23.25 578.05,20.68 578.05,25.83" fill="#808000"/>
<polygon points="588.68,27.68 584.68,25.1 584.68,30.25" fill="#808000"/>
<polygon points="595.32,32.52 591.32,29.94 591.32,35.09" fill="#808000"/>
<polygon points="601.96,36.6 597.96,34.02 597.96,39.17" fill="#808000"/>
<polygon points="608.61,42.12 604.61,39.54 604.61,44.69" fill="#808000"/>
<polygon points="615.26,37.39 611.26,34.82 611.26,39.97" fill="#808000"/>
<polygon points="621.9,29.77 617.9,27.2 617.9,32.35" fill="#808000"/>
<polygon points="628.55,24.1 624.55,21.52 624.55,26.67" fill="#808000"/>
<polygon points="635.2,20.36 631.2,17.79 631.2,22.94" fill="#808000"/>
<polygon points="641.85,18.68 637.84,16.11 637.84,21.26" fill="#808000"/>
<polygon points="648.49,18.08 644.49,15.51 644.49,20.66" fill="#808000"/>
<polygon points="655.14,17.9 651.14,15.33 651.14,20.47" fill="#808000"/>
<polygon points="661.79,17.9 657.78,15.33 657.78,20.47" fill="#808000"/>
<polygon points="668.43,17.9 664.43,15.33 664.43,20.47" fill="#808000"/>
<polygon points="675.08,17.9 671.08,15.33 671.08,20.47" fill="#808000"/>
<polygon points="681.73,17.9 677.73,15.33 677.73,20.47" fill="#808000"/>
<polygon points="688.37,17.9 684.37,15.33 684.37,20.47" fill="#808000"/>
<polygon points="502.71,49.5 498.7,46.93 498.7,52.07" fill="#808000"/>
<polygon points="509.21,64.6 505.2,62.03 505.2,67.17" fill="#808000"/>
<polygon points="515.61,94.9 511.6,92.33 511.6,97.47" fill="#808000"/>
<polygon points="522.51,135.6 518.5,133.03 518.5,138.17" fill="#808000"/>
<polygon points="529.31,82.5 525.3,79.93 525.3,85.07" fill="#808000"/>
<polygon points="536.31,55.7 532.3,53.13 532.3,58.27" fill="#808000"/>
</g>
<rect x="391.0" y="2.1" width="287.6" height="216.3" fill="none" stroke="#000" stroke-width="2"/>
<line x1="386" y1="17.9" x2="391.0" y2="17.9" stroke="#000" stroke-width="1.6"/>
<text transform="translate(383.6,24.82) scale(1,1.04)" font-size="15.8" text-anchor="end">0</text>
<line x1="386" y1="58.05" x2="391.0" y2="58.05" stroke="#000" stroke-width="1.6"/>
<text transform="translate(383.6,64.97) scale(1,1.04)" font-size="15.8" text-anchor="end">-5</text>
<line x1="386" y1="98.2" x2="391.0" y2="98.2" stroke="#000" stroke-width="1.6"/>
<text transform="translate(383.6,105.12) scale(1,1.04)" font-size="15.8" text-anchor="end">-10</text>
<line x1="386" y1="138.35" x2="391.0" y2="138.35" stroke="#000" stroke-width="1.6"/>
<text transform="translate(383.6,145.27) scale(1,1.04)" font-size="15.8" text-anchor="end">-15</text>
<line x1="386" y1="178.5" x2="391.0" y2="178.5" stroke="#000" stroke-width="1.6"/>
<text transform="translate(383.6,185.42) scale(1,1.04)" font-size="15.8" text-anchor="end">-20</text>
<line x1="386" y1="218.65" x2="391.0" y2="218.65" stroke="#000" stroke-width="1.6"/>
<text transform="translate(383.6,225.57) scale(1,1.04)" font-size="15.8" text-anchor="end">-25</text>
<line x1="388.4" y1="37.97" x2="391.0" y2="37.97" stroke="#000" stroke-width="1.6"/>
<line x1="388.4" y1="78.12" x2="391.0" y2="78.12" stroke="#000" stroke-width="1.6"/>
<line x1="388.4" y1="118.27" x2="391.0" y2="118.27" stroke="#000" stroke-width="1.6"/>
<line x1="388.4" y1="158.42" x2="391.0" y2="158.42" stroke="#000" stroke-width="1.6"/>
<line x1="388.4" y1="198.57" x2="391.0" y2="198.57" stroke="#000" stroke-width="1.6"/>
<line x1="411.9" y1="218.4" x2="411.9" y2="223.9" stroke="#000" stroke-width="1.6"/>
<text transform="translate(412.4,238.6) scale(1,1.04)" font-size="15.8" text-anchor="middle">100</text>
<line x1="465.15" y1="218.4" x2="465.15" y2="223.9" stroke="#000" stroke-width="1.6"/>
<text transform="translate(465.65,238.6) scale(1,1.04)" font-size="15.8" text-anchor="middle">200</text>
<line x1="518.4" y1="218.4" x2="518.4" y2="223.9" stroke="#000" stroke-width="1.6"/>
<text transform="translate(518.9,238.6) scale(1,1.04)" font-size="15.8" text-anchor="middle">300</text>
<line x1="571.65" y1="218.4" x2="571.65" y2="223.9" stroke="#000" stroke-width="1.6"/>
<text transform="translate(572.15,238.6) scale(1,1.04)" font-size="15.8" text-anchor="middle">400</text>
<line x1="624.9" y1="218.4" x2="624.9" y2="223.9" stroke="#000" stroke-width="1.6"/>
<text transform="translate(625.4,238.6) scale(1,1.04)" font-size="15.8" text-anchor="middle">500</text>
<line x1="678.15" y1="218.4" x2="678.15" y2="223.9" stroke="#000" stroke-width="1.6"/>
<text transform="translate(678.65,238.6) scale(1,1.04)" font-size="15.8" text-anchor="middle">600</text>
<line x1="438.52" y1="218.4" x2="438.52" y2="221.2" stroke="#000" stroke-width="1.6"/>
<line x1="491.77" y1="218.4" x2="491.77" y2="221.2" stroke="#000" stroke-width="1.6"/>
<line x1="545.02" y1="218.4" x2="545.02" y2="221.2" stroke="#000" stroke-width="1.6"/>
<line x1="598.27" y1="218.4" x2="598.27" y2="221.2" stroke="#000" stroke-width="1.6"/>
<line x1="651.52" y1="218.4" x2="651.52" y2="221.2" stroke="#000" stroke-width="1.6"/>
<text x="479.1" y="257.8" font-size="17.4">Temperature [<tspan font-size="9.2" dy="-5.3">o</tspan><tspan dy="5.3">C]</tspan></text>
<text transform="translate(359.9,202.9) rotate(-90)" font-size="17.5">Derivative mass [%/min]</text>
<text x="397.8" y="44" font-size="24.6">(b)</text>
<line x1="395" y1="133.8" x2="418.3" y2="133.8" stroke="#000000" stroke-width="0.6"/>
<rect x="405.55" y="132.05" width="3.5" height="3.5" fill="#000000"/>
<text x="420.5" y="137.5" font-size="10.5">PVC/CFAME0</text>
<line x1="395" y1="147.2" x2="418.3" y2="147.2" stroke="#ff0000" stroke-width="0.6"/>
<circle cx="407.3" cy="147.2" r="2" fill="#ff0000"/>
<text x="420.5" y="150.9" font-size="10.5">PVC/CFAME20</text>
<line x1="395" y1="160.6" x2="418.3" y2="160.6" stroke="#0000ff" stroke-width="0.6"/>
<polygon points="407.3,158.6 409.4,162.4 405.2,162.4" fill="#0000ff"/>
<text x="420.5" y="164.3" font-size="10.5">PVC/CFAME40</text>
<line x1="395" y1="174.0" x2="418.3" y2="174.0" stroke="#008080" stroke-width="0.6"/>
<polygon points="407.3,176.3 409.65,171.93 404.95,171.93" fill="#008080"/>
<text x="420.5" y="177.7" font-size="10.5">PVC/CFAME60</text>
<line x1="395" y1="187.4" x2="418.3" y2="187.4" stroke="#ff00ff" stroke-width="0.6"/>
<polygon points="405.3,187.4 409.1,185.25 409.1,189.55" fill="#ff00ff"/>
<text x="420.5" y="191.1" font-size="10.5">PVC/CFAME80</text>
<line x1="395" y1="200.8" x2="418.3" y2="200.8" stroke="#808000" stroke-width="0.6"/>
<polygon points="410,200.8 404.87,197.5 404.87,204.1" fill="#808000"/>
<text x="420.5" y="204.5" font-size="10.5">PVC/CFAME100</text>
<rect x="576.5" y="89.9" width="95.70000000000005" height="97.69999999999999" fill="#fff"/>
<g clip-path="url(#cri)" fill="none" stroke-width="0.9">
<path d="M555.93 76.27L566.66 82.49L570.23 84.7L573.81 87.29L577.38 90.47L580.96 92.1L584.53 91.28L588.11 90.79L591.68 90.63L595.26 90.58L598.83 90.63L602.41 91.01L605.98 98.01L609.56 113.98L613.13 145.04L616.71 180.22L620.28 185L623.86 155.36L627.43 122.01L631.01 91.39L634.58 79.88L638.16 74.45L641.73 71.19L645.31 69.29L648.88 68.2L652.46 67.49L656.03 67.15L666.76 66.62L670.33 66.4L673.91 66.05L677.48 65.55L681.06 64.95L695.36 62.43" stroke="#000000"/>
<path d="M555.93 74.87L563.08 78.67L566.66 80.67L570.23 83.2L573.81 85.86L577.38 88.2L580.96 89.74L584.53 90.11L595.26 90.28L602.41 90.74L605.98 93.45L609.56 99.1L613.13 115.01L616.71 131.46L620.28 145.04L623.86 155.08L627.43 138.52L638.16 91.39L641.73 85.31L645.31 80.96L648.88 77.58L652.46 74.98L656.03 73.64L659.61 72.73L670.33 70.78L695.36 65.49" stroke="#ff0000"/>
<path d="M555.93 72.82L563.08 76.36L566.66 78.45L573.81 83.74L577.38 86.16L580.96 87.89L584.53 88.72L588.11 89.29L591.68 89.71L595.26 90.02L602.41 90.47L605.98 91.01L609.56 91.82L613.13 97.8L616.71 107.03L620.28 117.89L623.86 129.83L627.43 133.09L631.01 124.95L634.58 113L638.16 99.43L641.73 94L645.31 90.74L652.46 80.17L656.03 78.18L659.61 77.05L670.33 74.71L673.91 73.64L684.63 69.98L688.21 68.85L691.78 67.87L695.36 67.02" stroke="#0000ff"/>
<path d="M555.93 68.69L563.08 71.53L566.66 73.04L573.81 76.28L577.38 78.05L584.53 81.97L588.11 84.33L591.68 86.56L595.26 87.88L598.83 88.89L605.98 90.47L609.56 91.12L613.13 92.37L616.71 94.7L620.28 98.88L623.86 104.2L627.43 108.66L631.01 112.68L634.58 112.46L638.16 109.91L641.73 104.86L648.88 97.8L652.46 95.19L659.61 90.74L663.18 89.42L666.76 88.33L670.33 86.9L673.91 85.01L677.48 82.83L684.63 78.16L688.21 75.64L695.36 70.13" stroke="#008080"/>
<path d="M555.93 70.38L563.08 73.62L566.66 75.41L577.38 81.78L580.96 83.61L584.53 85.15L588.11 86.54L591.68 87.8L595.26 88.96L598.83 89.89L602.41 91.01L605.98 92.91L609.56 95.62L613.13 102.14L616.71 110.83L623.86 133.42L627.43 132.01L631.01 123.32L634.58 114.09L638.16 106.1L641.73 98.88L645.31 93.29L648.88 90.2L652.46 86.37L656.03 84.17L659.61 82.46L670.33 78.36L681.06 73.68L695.36 67.63" stroke="#ff00ff"/>
<path d="M555.93 67.41L563.08 70.11L566.66 71.56L573.81 74.74L577.38 76.5L580.96 78.52L588.11 82.79L591.68 84.81L595.26 87.2L598.83 90.16L602.41 94L605.98 99.97L609.56 107.03L613.13 117.89L616.71 128.21L620.28 133.09L623.86 136.68L627.43 134.18L631.01 129.83L634.58 121.15L638.16 112.78L641.73 103.77L645.31 97.53L648.88 95.08L652.46 93.62L656.03 90.74L659.61 87.16L663.18 83.33L666.76 80.28L670.33 78.07L673.91 76.2L688.21 69.7L695.36 66.55" stroke="#808000"/>
</g>
<g clip-path="url(#cri)">
<rect x="571.97" y="85.46" width="3.68" height="3.68" fill="#000000"/>
<rect x="579.12" y="90.26" width="3.68" height="3.68" fill="#000000"/>
<rect x="586.27" y="88.95" width="3.68" height="3.68" fill="#000000"/>
<rect x="593.42" y="88.74" width="3.68" height="3.68" fill="#000000"/>
<rect x="600.57" y="89.17" width="3.68" height="3.68" fill="#000000"/>
<rect x="607.72" y="112.14" width="3.68" height="3.68" fill="#000000"/>
<rect x="614.87" y="178.39" width="3.68" height="3.68" fill="#000000"/>
<rect x="622.02" y="153.52" width="3.68" height="3.68" fill="#000000"/>
<rect x="629.17" y="89.55" width="3.68" height="3.68" fill="#000000"/>
<rect x="636.32" y="72.61" width="3.68" height="3.68" fill="#000000"/>
<rect x="643.47" y="67.45" width="3.68" height="3.68" fill="#000000"/>
<rect x="650.62" y="65.65" width="3.68" height="3.68" fill="#000000"/>
<rect x="657.77" y="65.1" width="3.68" height="3.68" fill="#000000"/>
<rect x="664.92" y="64.78" width="3.68" height="3.68" fill="#000000"/>
<rect x="672.07" y="64.21" width="3.68" height="3.68" fill="#000000"/>
<rect x="679.22" y="63.11" width="3.68" height="3.68" fill="#000000"/>
<circle cx="573.81" cy="85.86" r="2.1" fill="#ff0000"/>
<circle cx="580.96" cy="89.74" r="2.1" fill="#ff0000"/>
<circle cx="588.11" cy="90.14" r="2.1" fill="#ff0000"/>
<circle cx="595.26" cy="90.28" r="2.1" fill="#ff0000"/>
<circle cx="602.41" cy="90.74" r="2.1" fill="#ff0000"/>
<circle cx="609.56" cy="99.1" r="2.1" fill="#ff0000"/>
<circle cx="616.71" cy="131.46" r="2.1" fill="#ff0000"/>
<circle cx="623.86" cy="155.08" r="2.1" fill="#ff0000"/>
<circle cx="631.01" cy="122.99" r="2.1" fill="#ff0000"/>
<circle cx="638.16" cy="91.39" r="2.1" fill="#ff0000"/>
<circle cx="645.31" cy="80.96" r="2.1" fill="#ff0000"/>
<circle cx="652.46" cy="74.98" r="2.1" fill="#ff0000"/>
<circle cx="659.61" cy="72.73" r="2.1" fill="#ff0000"/>
<circle cx="666.76" cy="71.42" r="2.1" fill="#ff0000"/>
<circle cx="673.91" cy="70.02" r="2.1" fill="#ff0000"/>
<circle cx="681.06" cy="68.49" r="2.1" fill="#ff0000"/>
<polygon points="573.81,81.64 576.01,85.63 571.6,85.63" fill="#0000ff"/>
<polygon points="580.96,85.79 583.16,89.78 578.75,89.78" fill="#0000ff"/>
<polygon points="588.11,87.19 590.31,91.18 585.9,91.18" fill="#0000ff"/>
<polygon points="595.26,87.92 597.46,91.91 593.05,91.91" fill="#0000ff"/>
<polygon points="602.41,88.37 604.61,92.36 600.2,92.36" fill="#0000ff"/>
<polygon points="609.56,89.72 611.76,93.71 607.35,93.71" fill="#0000ff"/>
<polygon points="616.71,104.93 618.91,108.92 614.5,108.92" fill="#0000ff"/>
<polygon points="623.86,127.73 626.06,131.72 621.65,131.72" fill="#0000ff"/>
<polygon points="631.01,122.85 633.21,126.84 628.8,126.84" fill="#0000ff"/>
<polygon points="638.16,97.33 640.36,101.32 635.95,101.32" fill="#0000ff"/>
<polygon points="645.31,88.64 647.51,92.63 643.1,92.63" fill="#0000ff"/>
<polygon points="652.46,78.07 654.66,82.06 650.25,82.06" fill="#0000ff"/>
<polygon points="659.61,74.95 661.81,78.94 657.4,78.94" fill="#0000ff"/>
<polygon points="666.76,73.43 668.96,77.42 664.55,77.42" fill="#0000ff"/>
<polygon points="673.91,71.54 676.11,75.53 671.7,75.53" fill="#0000ff"/>
<polygon points="681.06,69.1 683.26,73.09 678.85,73.09" fill="#0000ff"/>
<polygon points="573.81,78.7 576.27,74.11 571.34,74.11" fill="#008080"/>
<polygon points="580.96,82.37 583.42,77.78 578.49,77.78" fill="#008080"/>
<polygon points="588.11,86.75 590.57,82.16 585.64,82.16" fill="#008080"/>
<polygon points="595.26,90.3 597.72,85.71 592.79,85.71" fill="#008080"/>
<polygon points="602.41,92.13 604.87,87.54 599.94,87.54" fill="#008080"/>
<polygon points="609.56,93.53 612.02,88.94 607.09,88.94" fill="#008080"/>
<polygon points="616.71,97.12 619.17,92.53 614.24,92.53" fill="#008080"/>
<polygon points="623.86,106.62 626.32,102.03 621.39,102.03" fill="#008080"/>
<polygon points="631.01,115.09 633.47,110.5 628.54,110.5" fill="#008080"/>
<polygon points="638.16,112.32 640.62,107.73 635.69,107.73" fill="#008080"/>
<polygon points="645.31,103.74 647.77,99.15 642.84,99.15" fill="#008080"/>
<polygon points="652.46,97.61 654.92,93.02 649.99,93.02" fill="#008080"/>
<polygon points="659.61,93.15 662.07,88.56 657.14,88.56" fill="#008080"/>
<polygon points="666.76,90.75 669.22,86.16 664.29,86.16" fill="#008080"/>
<polygon points="673.91,87.43 676.37,82.84 671.44,82.84" fill="#008080"/>
<polygon points="681.06,82.92 683.52,78.33 678.59,78.33" fill="#008080"/>
<polygon points="571.71,79.67 575.7,77.42 575.7,81.93" fill="#ff00ff"/>
<polygon points="578.86,83.61 582.85,81.36 582.85,85.87" fill="#ff00ff"/>
<polygon points="586.01,86.54 590,84.28 590,88.79" fill="#ff00ff"/>
<polygon points="593.16,88.96 597.15,86.7 597.15,91.21" fill="#ff00ff"/>
<polygon points="600.31,91.01 604.3,88.75 604.3,93.27" fill="#ff00ff"/>
<polygon points="607.46,95.62 611.45,93.37 611.45,97.88" fill="#ff00ff"/>
<polygon points="614.61,110.83 618.6,108.57 618.6,113.09" fill="#ff00ff"/>
<polygon points="621.76,133.42 625.75,131.16 625.75,135.68" fill="#ff00ff"/>
<polygon points="628.91,123.32 632.9,121.06 632.9,125.58" fill="#ff00ff"/>
<polygon points="636.06,106.1 640.05,103.85 640.05,108.36" fill="#ff00ff"/>
<polygon points="643.21,93.29 647.2,91.03 647.2,95.55" fill="#ff00ff"/>
<polygon points="650.36,86.37 654.35,84.11 654.35,88.63" fill="#ff00ff"/>
<polygon points="657.51,82.46 661.5,80.21 661.5,84.72" fill="#ff00ff"/>
<polygon points="664.66,79.75 668.65,77.5 668.65,82.01" fill="#ff00ff"/>
<polygon points="671.81,76.79 675.8,74.53 675.8,79.05" fill="#ff00ff"/>
<polygon points="678.96,73.68 682.95,71.42 682.95,75.94" fill="#ff00ff"/>
<polygon points="576.1,74.74 571.74,71.93 571.74,77.54" fill="#808000"/>
<polygon points="583.25,78.52 578.89,75.71 578.89,81.32" fill="#808000"/>
<polygon points="590.4,82.79 586.04,79.99 586.04,85.6" fill="#808000"/>
<polygon points="597.55,87.2 593.19,84.39 593.19,90" fill="#808000"/>
<polygon points="604.7,94 600.34,91.19 600.34,96.8" fill="#808000"/>
<polygon points="611.85,107.03 607.49,104.22 607.49,109.83" fill="#808000"/>
<polygon points="619,128.21 614.64,125.4 614.64,131.01" fill="#808000"/>
<polygon points="626.15,136.68 621.79,133.87 621.79,139.48" fill="#808000"/>
<polygon points="633.3,129.83 628.94,127.03 628.94,132.64" fill="#808000"/>
<polygon points="640.45,112.78 636.09,109.98 636.09,115.59" fill="#808000"/>
<polygon points="647.6,97.53 643.24,94.72 643.24,100.33" fill="#808000"/>
<polygon points="654.75,93.62 650.39,90.81 650.39,96.42" fill="#808000"/>
<polygon points="661.9,87.16 657.54,84.35 657.54,89.96" fill="#808000"/>
<polygon points="669.05,80.28 664.69,77.48 664.69,83.09" fill="#808000"/>
<polygon points="676.2,76.2 671.84,73.39 671.84,79" fill="#808000"/>
<polygon points="683.35,72.95 678.99,70.15 678.99,75.76" fill="#808000"/>
</g>
<rect x="576.5" y="89.9" width="95.70000000000005" height="97.69999999999999" fill="none" stroke="#000" stroke-width="1.1"/>
<line x1="574.5" y1="109.2" x2="576.5" y2="109.2" stroke="#000" stroke-width="1"/>
<text x="573.8" y="112.8" font-size="10.2" text-anchor="end">-10</text>
<line x1="574.5" y1="136.35" x2="576.5" y2="136.35" stroke="#000" stroke-width="1"/>
<text x="573.8" y="139.95" font-size="10.2" text-anchor="end">-15</text>
<line x1="574.5" y1="163.5" x2="576.5" y2="163.5" stroke="#000" stroke-width="1"/>
<text x="573.8" y="167.1" font-size="10.2" text-anchor="end">-20</text>
<line x1="575.3" y1="95.62" x2="576.5" y2="95.62" stroke="#000" stroke-width="1"/>
<line x1="575.3" y1="122.78" x2="576.5" y2="122.78" stroke="#000" stroke-width="1"/>
<line x1="575.3" y1="149.93" x2="576.5" y2="149.93" stroke="#000" stroke-width="1"/>
<line x1="575.3" y1="177.07" x2="576.5" y2="177.07" stroke="#000" stroke-width="1"/>
<line x1="595.4" y1="187.6" x2="595.4" y2="189.6" stroke="#000" stroke-width="1"/>
<text x="595.4" y="199.3" font-size="10.2" text-anchor="middle">280</text>
<line x1="624" y1="187.6" x2="624" y2="189.6" stroke="#000" stroke-width="1"/>
<text x="624" y="199.3" font-size="10.2" text-anchor="middle">300</text>
<line x1="652.6" y1="187.6" x2="652.6" y2="189.6" stroke="#000" stroke-width="1"/>
<text x="652.6" y="199.3" font-size="10.2" text-anchor="middle">320</text>
<line x1="581.1" y1="187.6" x2="581.1" y2="188.8" stroke="#000" stroke-width="1"/>
<line x1="609.7" y1="187.6" x2="609.7" y2="188.8" stroke="#000" stroke-width="1"/>
<line x1="638.3" y1="187.6" x2="638.3" y2="188.8" stroke="#000" stroke-width="1"/>
<line x1="666.9" y1="187.6" x2="666.9" y2="188.8" stroke="#000" stroke-width="1"/>
<text x="587.2" y="208.7" font-size="10.3">Temperature [<tspan font-size="6.3" dy="-3.5">o</tspan><tspan dy="3.5">C]</tspan></text>
<text transform="translate(556.9,197.2) rotate(-90)" font-size="10.42">Derivative mass [%/min]</text>
<line x1="528.9" y1="145.2" x2="543" y2="145.2" stroke="#000" stroke-width="1.2"/>
<polygon points="548.1,145.2 542.3,143.4 542.3,147" fill="#000"/>
</svg></body></html>
